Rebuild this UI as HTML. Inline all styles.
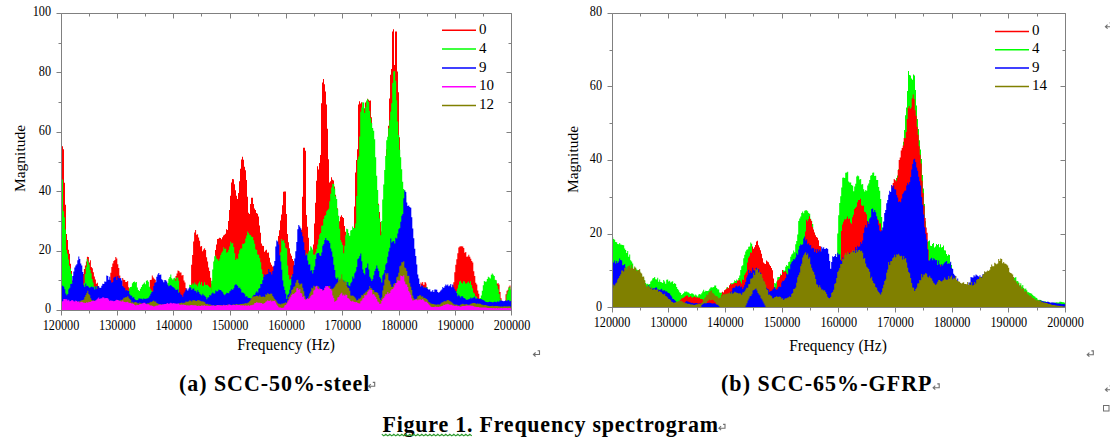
<!DOCTYPE html>
<html><head><meta charset="utf-8"><style>
html,body{margin:0;padding:0;background:#fff;width:1110px;height:447px;overflow:hidden}
svg{position:absolute;left:0;top:0}
.tk{font-family:"Liberation Serif",serif;font-size:13px;fill:#000}
.tk2{font-family:"Liberation Serif",serif;font-size:12.3px;fill:#000}
.lg{font-family:"Liberation Serif",serif;font-size:15px;fill:#000}
.ax{font-family:"Liberation Serif",serif;font-size:15.5px;fill:#000}
.cap{font-family:"Liberation Serif",serif;font-weight:bold;font-size:22px;fill:#000}
.pm{font-family:"Liberation Sans",sans-serif;font-size:9px;fill:#888}
</style></head><body>
<svg width="1110" height="447" viewBox="0 0 1110 447">
<path d="M61.0,310.5 L61.0,146.6 L62.0,146.6 L62.0,146.3 L63.0,146.3 L63.0,149.3 L64.0,149.3 L64.0,182.7 L65.0,182.7 L65.0,204.7 L66.0,204.7 L66.0,234.1 L67.0,234.1 L67.0,240.0 L68.0,240.0 L68.0,249.8 L69.0,249.8 L69.0,253.7 L70.0,253.7 L70.0,263.7 L71.0,263.7 L71.0,271.1 L72.0,271.1 L72.0,280.4 L73.0,280.4 L73.0,291.3 L74.0,291.3 L74.0,310.5 Z M81.9,310.5 L81.9,283.0 L82.9,283.0 L82.9,274.1 L83.9,274.1 L83.9,269.0 L84.9,269.0 L84.9,265.4 L85.9,265.4 L85.9,261.4 L86.9,261.4 L86.9,256.7 L87.9,256.7 L87.9,257.1 L88.9,257.1 L88.9,262.5 L89.9,262.5 L89.9,260.3 L90.9,260.3 L90.9,266.9 L91.9,266.9 L91.9,268.3 L92.9,268.3 L92.9,272.3 L93.9,272.3 L93.9,276.6 L94.9,276.6 L94.9,279.5 L95.9,279.5 L95.9,283.7 L96.9,283.7 L96.9,282.7 L97.9,282.7 L97.9,285.9 L98.9,285.9 L98.9,287.7 L99.9,287.7 L99.9,291.6 L100.6,291.6 L100.6,310.5 Z M110.3,310.5 L110.3,272.8 L111.3,272.8 L111.3,267.0 L112.3,267.0 L112.3,263.6 L113.3,263.6 L113.3,260.9 L114.3,260.9 L114.3,259.9 L115.3,259.9 L115.3,256.9 L116.3,256.9 L116.3,258.5 L117.3,258.5 L117.3,264.2 L118.3,264.2 L118.3,267.9 L119.3,267.9 L119.3,275.6 L120.3,275.6 L120.3,283.6 L121.3,283.6 L121.3,287.7 L121.3,287.7 L121.3,310.5 Z M122.2,310.5 L122.2,278.0 L123.2,278.0 L123.2,279.7 L124.2,279.7 L124.2,279.9 L125.2,279.9 L125.2,282.1 L126.2,282.1 L126.2,282.0 L127.2,282.0 L127.2,281.1 L128.2,281.1 L128.2,287.2 L129.2,287.2 L129.2,289.1 L130.2,289.1 L130.2,298.0 L130.5,298.0 L130.5,310.5 Z M148.8,310.5 L148.8,287.5 L149.8,287.5 L149.8,279.9 L150.8,279.9 L150.8,279.7 L151.8,279.7 L151.8,275.4 L152.8,275.4 L152.8,277.4 L153.8,277.4 L153.8,278.7 L154.8,278.7 L154.8,279.7 L155.8,279.7 L155.8,287.0 L156.8,287.0 L156.8,294.3 L157.1,294.3 L157.1,310.5 Z M174.5,310.5 L174.5,279.1 L175.5,279.1 L175.5,276.1 L176.5,276.1 L176.5,273.6 L177.5,273.6 L177.5,270.4 L178.5,270.4 L178.5,270.9 L179.5,270.9 L179.5,272.4 L180.5,272.4 L180.5,272.4 L181.5,272.4 L181.5,275.6 L182.5,275.6 L182.5,275.0 L183.5,275.0 L183.5,280.5 L184.5,280.5 L184.5,282.4 L185.5,282.4 L185.5,288.0 L186.5,288.0 L186.5,291.5 L187.5,291.5 L187.5,291.7 L188.5,291.7 L188.5,293.9 L189.2,293.9 L189.2,310.5 Z M190.1,310.5 L190.1,286.1 L191.1,286.1 L191.1,264.8 L192.1,264.8 L192.1,255.0 L193.1,255.0 L193.1,241.6 L194.1,241.6 L194.1,232.4 L195.1,232.4 L195.1,229.9 L196.1,229.9 L196.1,234.8 L197.1,234.8 L197.1,234.2 L198.1,234.2 L198.1,237.4 L199.1,237.4 L199.1,240.7 L200.1,240.7 L200.1,246.4 L201.1,246.4 L201.1,246.0 L202.1,246.0 L202.1,251.3 L203.1,251.3 L203.1,249.6 L204.1,249.6 L204.1,248.2 L205.1,248.2 L205.1,250.1 L206.1,250.1 L206.1,257.3 L207.1,257.3 L207.1,261.4 L208.1,261.4 L208.1,267.4 L209.1,267.4 L209.1,271.1 L210.1,271.1 L210.1,277.7 L211.1,277.7 L211.1,283.5 L212.1,283.5 L212.1,285.5 L213.1,285.5 L213.1,288.6 L214.0,288.6 L214.0,310.5 Z M212.0,310.5 L212.0,285.9 L213.0,285.9 L213.0,271.2 L214.0,271.2 L214.0,260.2 L215.0,260.2 L215.0,250.1 L216.0,250.1 L216.0,244.4 L217.0,244.4 L217.0,239.1 L218.0,239.1 L218.0,238.7 L219.0,238.7 L219.0,237.8 L220.0,237.8 L220.0,238.0 L221.0,238.0 L221.0,239.2 L222.0,239.2 L222.0,237.2 L223.0,237.2 L223.0,235.6 L224.0,235.6 L224.0,234.7 L225.0,234.7 L225.0,233.7 L226.0,233.7 L226.0,229.2 L227.0,229.2 L227.0,230.0 L228.0,230.0 L228.0,221.0 L229.0,221.0 L229.0,209.9 L230.0,209.9 L230.0,195.8 L231.0,195.8 L231.0,182.4 L232.0,182.4 L232.0,179.0 L233.0,179.0 L233.0,179.2 L234.0,179.2 L234.0,184.2 L235.0,184.2 L235.0,190.3 L236.0,190.3 L236.0,195.8 L237.0,195.8 L237.0,199.1 L238.0,199.1 L238.0,193.0 L239.0,193.0 L239.0,181.3 L240.0,181.3 L240.0,168.7 L241.0,168.7 L241.0,159.6 L242.0,159.6 L242.0,156.8 L243.0,156.8 L243.0,159.8 L244.0,159.8 L244.0,166.7 L245.0,166.7 L245.0,170.3 L246.0,170.3 L246.0,179.9 L247.0,179.9 L247.0,196.8 L248.0,196.8 L248.0,212.7 L249.0,212.7 L249.0,214.1 L250.0,214.1 L250.0,204.1 L251.0,204.1 L251.0,197.8 L252.0,197.8 L252.0,197.7 L253.0,197.7 L253.0,204.1 L254.0,204.1 L254.0,208.5 L255.0,208.5 L255.0,210.1 L256.0,210.1 L256.0,213.1 L257.0,213.1 L257.0,213.8 L258.0,213.8 L258.0,216.5 L259.0,216.5 L259.0,225.5 L260.0,225.5 L260.0,232.8 L261.0,232.8 L261.0,243.4 L262.0,243.4 L262.0,245.8 L263.0,245.8 L263.0,246.1 L264.0,246.1 L264.0,251.8 L265.0,251.8 L265.0,250.6 L266.0,250.6 L266.0,249.7 L267.0,249.7 L267.0,252.7 L268.0,252.7 L268.0,252.5 L269.0,252.5 L269.0,257.7 L270.0,257.7 L270.0,262.6 L271.0,262.6 L271.0,264.7 L272.0,264.7 L272.0,266.5 L273.0,266.5 L273.0,266.8 L274.0,266.8 L274.0,269.4 L275.0,269.4 L275.0,267.3 L276.0,267.3 L276.0,263.9 L277.0,263.9 L277.0,248.7 L278.0,248.7 L278.0,235.9 L279.0,235.9 L279.0,230.3 L280.0,230.3 L280.0,220.6 L281.0,220.6 L281.0,214.4 L282.0,214.4 L282.0,205.3 L283.0,205.3 L283.0,191.7 L284.0,191.7 L284.0,191.4 L285.0,191.4 L285.0,191.5 L286.0,191.5 L286.0,214.0 L287.0,214.0 L287.0,233.9 L288.0,233.9 L288.0,242.2 L289.0,242.2 L289.0,248.2 L290.0,248.2 L290.0,253.4 L291.0,253.4 L291.0,255.8 L292.0,255.8 L292.0,259.1 L293.0,259.1 L293.0,260.9 L294.0,260.9 L294.0,265.1 L295.0,265.1 L295.0,268.0 L296.0,268.0 L296.0,266.2 L297.0,266.2 L297.0,264.9 L298.0,264.9 L298.0,257.2 L299.0,257.2 L299.0,249.2 L300.0,249.2 L300.0,238.4 L301.0,238.4 L301.0,229.8 L302.0,229.8 L302.0,196.8 L303.0,196.8 L303.0,147.7 L304.0,147.7 L304.0,147.8 L305.0,147.8 L305.0,150.8 L306.0,150.8 L306.0,214.9 L307.0,214.9 L307.0,226.8 L308.0,226.8 L308.0,237.7 L309.0,237.7 L309.0,251.9 L310.0,251.9 L310.0,260.3 L311.0,260.3 L311.0,255.6 L312.0,255.6 L312.0,250.9 L313.0,250.9 L313.0,244.5 L314.0,244.5 L314.0,223.4 L315.0,223.4 L315.0,202.8 L316.0,202.8 L316.0,180.7 L317.0,180.7 L317.0,166.3 L318.0,166.3 L318.0,169.5 L319.0,169.5 L319.0,162.9 L320.0,162.9 L320.0,155.1 L321.0,155.1 L321.0,103.3 L322.0,103.3 L322.0,82.4 L323.0,82.4 L323.0,79.0 L324.0,79.0 L324.0,84.3 L325.0,84.3 L325.0,91.6 L326.0,91.6 L326.0,104.4 L327.0,104.4 L327.0,128.7 L328.0,128.7 L328.0,159.2 L329.0,159.2 L329.0,182.6 L330.0,182.6 L330.0,181.3 L331.0,181.3 L331.0,177.2 L332.0,177.2 L332.0,179.8 L333.0,179.8 L333.0,180.4 L334.0,180.4 L334.0,186.5 L335.0,186.5 L335.0,194.7 L336.0,194.7 L336.0,203.0 L337.0,203.0 L337.0,208.2 L338.0,208.2 L338.0,215.8 L339.0,215.8 L339.0,221.2 L340.0,221.2 L340.0,216.8 L341.0,216.8 L341.0,215.2 L342.0,215.2 L342.0,216.9 L343.0,216.9 L343.0,217.9 L344.0,217.9 L344.0,226.0 L345.0,226.0 L345.0,231.7 L346.0,231.7 L346.0,310.5 Z M352.0,310.5 L352.0,270.1 L353.0,270.1 L353.0,239.3 L354.0,239.3 L354.0,206.5 L355.0,206.5 L355.0,172.5 L356.0,172.5 L356.0,160.1 L357.0,160.1 L357.0,149.3 L358.0,149.3 L358.0,104.6 L359.0,104.6 L359.0,101.2 L360.0,101.2 L360.0,103.6 L361.0,103.6 L361.0,102.2 L362.0,102.2 L362.0,109.9 L363.0,109.9 L363.0,110.1 L364.0,110.1 L364.0,108.3 L365.0,108.3 L365.0,102.5 L366.0,102.5 L366.0,101.6 L367.0,101.6 L367.0,98.8 L368.0,98.8 L368.0,99.8 L369.0,99.8 L369.0,100.7 L370.0,100.7 L370.0,100.5 L371.0,100.5 L371.0,117.2 L372.0,117.2 L372.0,129.9 L373.0,129.9 L373.0,140.9 L374.0,140.9 L374.0,157.3 L375.0,157.3 L375.0,167.5 L376.0,167.5 L376.0,182.4 L377.0,182.4 L377.0,194.1 L378.0,194.1 L378.0,203.8 L379.0,203.8 L379.0,211.9 L380.0,211.9 L380.0,222.1 L381.0,222.1 L381.0,231.5 L382.0,231.5 L382.0,258.3 L383.0,258.3 L383.0,310.5 Z M384.0,310.5 L384.0,238.7 L385.0,238.7 L385.0,179.2 L386.0,179.2 L386.0,149.2 L387.0,149.2 L387.0,143.2 L388.0,143.2 L388.0,125.8 L389.0,125.8 L389.0,98.6 L390.0,98.6 L390.0,74.8 L391.0,74.8 L391.0,68.9 L392.0,68.9 L392.0,31.6 L393.0,31.6 L393.0,29.2 L394.0,29.2 L394.0,65.1 L395.0,65.1 L395.0,31.5 L396.0,31.5 L396.0,31.6 L397.0,31.6 L397.0,71.4 L398.0,71.4 L398.0,92.3 L399.0,92.3 L399.0,137.3 L400.0,137.3 L400.0,173.4 L401.0,173.4 L401.0,190.2 L402.0,190.2 L402.0,203.5 L403.0,203.5 L403.0,229.4 L404.0,229.4 L404.0,310.5 Z M419.5,310.5 L419.5,289.1 L420.5,289.1 L420.5,282.5 L421.5,282.5 L421.5,283.8 L422.5,283.8 L422.5,285.5 L423.5,285.5 L423.5,285.0 L424.5,285.0 L424.5,282.0 L425.5,282.0 L425.5,283.9 L426.5,283.9 L426.5,288.9 L426.8,288.9 L426.8,310.5 Z M439.7,310.5 L439.7,291.6 L440.7,291.6 L440.7,291.3 L441.7,291.3 L441.7,290.9 L442.7,290.9 L442.7,293.6 L443.3,293.6 L443.3,310.5 Z M420.2,310.5 L420.2,286.3 L421.2,286.3 L421.2,285.3 L422.2,285.3 L422.2,282.1 L423.2,282.1 L423.2,284.8 L424.2,284.8 L424.2,284.7 L425.2,284.7 L425.2,282.8 L426.2,282.8 L426.2,287.1 L427.2,287.1 L427.2,289.6 L427.5,289.6 L427.5,310.5 Z M452.3,310.5 L452.3,285.3 L453.3,285.3 L453.3,282.2 L454.3,282.2 L454.3,272.2 L455.3,272.2 L455.3,264.7 L456.3,264.7 L456.3,259.2 L457.3,259.2 L457.3,253.2 L458.3,253.2 L458.3,247.5 L459.3,247.5 L459.3,246.5 L460.3,246.5 L460.3,246.3 L461.3,246.3 L461.3,246.2 L462.3,246.2 L462.3,246.5 L463.3,246.5 L463.3,248.1 L464.3,248.1 L464.3,252.8 L465.3,252.8 L465.3,251.9 L466.3,251.9 L466.3,256.7 L467.3,256.7 L467.3,256.6 L468.3,256.6 L468.3,254.8 L469.3,254.8 L469.3,256.8 L470.3,256.8 L470.3,258.7 L471.3,258.7 L471.3,260.9 L472.3,260.9 L472.3,262.6 L473.3,262.6 L473.3,271.2 L474.3,271.2 L474.3,276.0 L475.3,276.0 L475.3,282.8 L476.3,282.8 L476.3,284.5 L477.3,284.5 L477.3,290.5 L478.3,290.5 L478.3,293.7 L479.3,293.7 L479.3,298.4 L480.3,298.4 L480.3,299.3 L480.7,299.3 L480.7,310.5 Z M493.6,310.5 L493.6,284.1 L494.6,284.1 L494.6,279.8 L495.6,279.8 L495.6,282.5 L496.6,282.5 L496.6,283.8 L497.6,283.8 L497.6,283.1 L498.6,283.1 L498.6,284.6 L499.6,284.6 L499.6,292.0 L500.6,292.0 L500.6,298.2 L501.6,298.2 L501.6,303.2 L501.8,303.2 L501.8,310.5 Z M505.5,310.5 L505.5,294.2 L506.5,294.2 L506.5,290.8 L507.5,290.8 L507.5,289.7 L508.5,289.7 L508.5,286.7 L509.5,286.7 L509.5,285.6 L510.5,285.6 L510.5,289.8 L511.5,289.8 L511.5,290.8 L512.0,290.8 L512.0,310.5 Z " fill="#ff0000"/>
<path d="M61.0,310.5 L61.0,183.0 L62.0,183.0 L62.0,179.4 L63.0,179.4 L63.0,211.3 L64.0,211.3 L64.0,217.3 L65.0,217.3 L65.0,229.5 L66.0,229.5 L66.0,249.9 L67.0,249.9 L67.0,253.8 L68.0,253.8 L68.0,259.4 L69.0,259.4 L69.0,265.8 L70.0,265.8 L70.0,268.5 L71.0,268.5 L71.0,273.8 L72.0,273.8 L72.0,282.1 L73.0,282.1 L73.0,288.4 L73.6,288.4 L73.6,310.5 Z M74.1,310.5 L74.1,295.7 L75.1,295.7 L75.1,294.6 L76.1,294.6 L76.1,295.8 L77.1,295.8 L77.1,298.0 L77.3,298.0 L77.3,310.5 Z M83.7,310.5 L83.7,282.9 L84.7,282.9 L84.7,274.1 L85.7,274.1 L85.7,267.3 L86.7,267.3 L86.7,259.0 L87.7,259.0 L87.7,261.6 L88.7,261.6 L88.7,264.6 L89.7,264.6 L89.7,270.1 L90.7,270.1 L90.7,273.2 L91.7,273.2 L91.7,279.0 L92.7,279.0 L92.7,282.5 L93.7,282.5 L93.7,286.7 L94.7,286.7 L94.7,286.6 L95.7,286.6 L95.7,286.0 L96.7,286.0 L96.7,289.8 L97.4,289.8 L97.4,310.5 Z M125.9,310.5 L125.9,295.5 L126.9,295.5 L126.9,290.6 L127.9,290.6 L127.9,291.2 L128.9,291.2 L128.9,288.3 L129.9,288.3 L129.9,286.9 L130.9,286.9 L130.9,286.7 L131.9,286.7 L131.9,283.2 L132.9,283.2 L132.9,282.1 L133.9,282.1 L133.9,281.4 L134.9,281.4 L134.9,282.5 L135.9,282.5 L135.9,282.1 L136.9,282.1 L136.9,287.4 L137.9,287.4 L137.9,290.0 L138.9,290.0 L138.9,290.9 L139.9,290.9 L139.9,288.7 L140.9,288.7 L140.9,287.1 L141.9,287.1 L141.9,284.7 L142.9,284.7 L142.9,283.8 L143.9,283.8 L143.9,282.4 L144.9,282.4 L144.9,284.2 L145.9,284.2 L145.9,280.8 L146.9,280.8 L146.9,280.3 L147.9,280.3 L147.9,281.7 L148.9,281.7 L148.9,286.8 L149.9,286.8 L149.9,288.7 L150.9,288.7 L150.9,290.4 L151.9,290.4 L151.9,291.6 L152.9,291.6 L152.9,296.1 L153.4,296.1 L153.4,310.5 Z M166.3,310.5 L166.3,285.8 L167.3,285.8 L167.3,282.9 L168.3,282.9 L168.3,278.7 L169.3,278.7 L169.3,277.1 L170.3,277.1 L170.3,274.4 L171.3,274.4 L171.3,278.3 L172.3,278.3 L172.3,279.4 L173.3,279.4 L173.3,278.3 L174.3,278.3 L174.3,277.8 L175.3,277.8 L175.3,281.0 L176.3,281.0 L176.3,277.4 L177.3,277.4 L177.3,277.7 L178.3,277.7 L178.3,280.8 L179.1,280.8 L179.1,310.5 Z M189.2,310.5 L189.2,284.8 L190.2,284.8 L190.2,284.9 L191.2,284.9 L191.2,284.8 L192.2,284.8 L192.2,283.3 L193.2,283.3 L193.2,284.4 L194.2,284.4 L194.2,282.6 L195.2,282.6 L195.2,284.4 L196.2,284.4 L196.2,284.5 L197.2,284.5 L197.2,286.4 L198.2,286.4 L198.2,286.3 L199.2,286.3 L199.2,287.7 L200.2,287.7 L200.2,290.1 L201.1,290.1 L201.1,310.5 Z M191.0,310.5 L191.0,287.8 L192.0,287.8 L192.0,287.5 L193.0,287.5 L193.0,285.8 L194.0,285.8 L194.0,285.2 L195.0,285.2 L195.0,284.8 L196.0,284.8 L196.0,285.4 L197.0,285.4 L197.0,286.3 L198.0,286.3 L198.0,283.2 L199.0,283.2 L199.0,281.5 L200.0,281.5 L200.0,284.5 L201.0,284.5 L201.0,282.0 L202.0,282.0 L202.0,285.7 L203.0,285.7 L203.0,285.7 L204.0,285.7 L204.0,282.2 L205.0,282.2 L205.0,284.7 L206.0,284.7 L206.0,284.9 L207.0,284.9 L207.0,284.7 L208.0,284.7 L208.0,286.0 L209.0,286.0 L209.0,287.2 L210.0,287.2 L210.0,287.5 L211.0,287.5 L211.0,291.6 L212.0,291.6 L212.0,310.5 Z M211.2,310.5 L211.2,280.8 L212.2,280.8 L212.2,269.6 L213.2,269.6 L213.2,261.4 L214.2,261.4 L214.2,256.2 L215.2,256.2 L215.2,255.5 L216.2,255.5 L216.2,258.6 L217.2,258.6 L217.2,259.2 L218.2,259.2 L218.2,260.8 L219.2,260.8 L219.2,258.5 L220.2,258.5 L220.2,254.9 L221.2,254.9 L221.2,252.7 L222.2,252.7 L222.2,251.2 L223.2,251.2 L223.2,247.2 L224.2,247.2 L224.2,248.9 L225.2,248.9 L225.2,248.4 L226.2,248.4 L226.2,252.8 L227.2,252.8 L227.2,251.9 L228.2,251.9 L228.2,249.8 L229.2,249.8 L229.2,246.5 L230.2,246.5 L230.2,241.8 L231.2,241.8 L231.2,243.4 L232.2,243.4 L232.2,242.9 L233.2,242.9 L233.2,247.1 L234.2,247.1 L234.2,253.2 L235.2,253.2 L235.2,259.9 L236.2,259.9 L236.2,258.2 L237.2,258.2 L237.2,258.9 L238.2,258.9 L238.2,253.8 L239.2,253.8 L239.2,250.3 L240.2,250.3 L240.2,248.6 L241.2,248.6 L241.2,248.5 L242.2,248.5 L242.2,243.7 L243.2,243.7 L243.2,244.1 L244.2,244.1 L244.2,243.0 L245.2,243.0 L245.2,238.4 L246.2,238.4 L246.2,235.5 L247.2,235.5 L247.2,231.4 L248.2,231.4 L248.2,233.0 L249.2,233.0 L249.2,234.7 L250.2,234.7 L250.2,235.3 L251.2,235.3 L251.2,236.8 L252.2,236.8 L252.2,237.0 L253.2,237.0 L253.2,240.3 L254.2,240.3 L254.2,243.8 L255.2,243.8 L255.2,249.3 L256.2,249.3 L256.2,250.1 L257.2,250.1 L257.2,254.4 L258.2,254.4 L258.2,254.7 L259.2,254.7 L259.2,258.0 L260.2,258.0 L260.2,262.3 L261.2,262.3 L261.2,269.2 L262.2,269.2 L262.2,274.1 L263.2,274.1 L263.2,277.4 L264.2,277.4 L264.2,278.6 L265.2,278.6 L265.2,281.1 L266.2,281.1 L266.2,281.3 L267.2,281.3 L267.2,281.8 L268.2,281.8 L268.2,280.8 L269.2,280.8 L269.2,285.4 L270.2,285.4 L270.2,283.6 L271.2,283.6 L271.2,287.9 L272.2,287.9 L272.2,288.9 L273.2,288.9 L273.2,287.2 L274.2,287.2 L274.2,290.4 L275.2,290.4 L275.2,293.1 L276.2,293.1 L276.2,292.3 L277.2,292.3 L277.2,288.4 L278.2,288.4 L278.2,282.5 L279.2,282.5 L279.2,264.9 L280.2,264.9 L280.2,252.2 L281.2,252.2 L281.2,239.1 L282.2,239.1 L282.2,241.1 L283.2,241.1 L283.2,239.9 L284.2,239.9 L284.2,243.1 L285.2,243.1 L285.2,247.8 L286.2,247.8 L286.2,248.5 L287.2,248.5 L287.2,265.4 L288.2,265.4 L288.2,275.1 L289.2,275.1 L289.2,279.5 L290.2,279.5 L290.2,279.1 L291.2,279.1 L291.2,275.6 L292.2,275.6 L292.2,277.7 L293.2,277.7 L293.2,274.5 L294.2,274.5 L294.2,271.0 L295.2,271.0 L295.2,269.8 L296.2,269.8 L296.2,270.9 L297.2,270.9 L297.2,269.5 L298.2,269.5 L298.2,267.5 L299.2,267.5 L299.2,265.5 L300.2,265.5 L300.2,265.5 L301.2,265.5 L301.2,264.4 L302.2,264.4 L302.2,266.0 L303.2,266.0 L303.2,260.8 L304.2,260.8 L304.2,263.1 L305.2,263.1 L305.2,260.2 L306.2,260.2 L306.2,253.2 L307.2,253.2 L307.2,254.3 L308.2,254.3 L308.2,251.4 L309.2,251.4 L309.2,250.6 L310.2,250.6 L310.2,246.3 L311.2,246.3 L311.2,247.4 L312.2,247.4 L312.2,249.5 L313.2,249.5 L313.2,254.5 L314.2,254.5 L314.2,254.4 L315.2,254.4 L315.2,252.5 L316.2,252.5 L316.2,249.0 L317.2,249.0 L317.2,244.4 L318.2,244.4 L318.2,239.2 L319.2,239.2 L319.2,234.5 L320.2,234.5 L320.2,233.1 L321.2,233.1 L321.2,225.7 L322.2,225.7 L322.2,225.6 L323.2,225.6 L323.2,218.9 L324.2,218.9 L324.2,215.9 L325.2,215.9 L325.2,214.9 L326.2,214.9 L326.2,211.2 L327.2,211.2 L327.2,209.9 L328.2,209.9 L328.2,208.7 L329.2,208.7 L329.2,201.2 L330.2,201.2 L330.2,193.8 L331.2,193.8 L331.2,187.4 L332.2,187.4 L332.2,183.8 L333.2,183.8 L333.2,184.0 L334.2,184.0 L334.2,188.8 L335.2,188.8 L335.2,196.3 L336.2,196.3 L336.2,199.0 L337.2,199.0 L337.2,209.2 L338.2,209.2 L338.2,216.0 L339.2,216.0 L339.2,228.7 L340.2,228.7 L340.2,240.1 L341.2,240.1 L341.2,242.2 L342.2,242.2 L342.2,245.0 L343.2,245.0 L343.2,253.3 L344.2,253.3 L344.2,245.8 L345.2,245.8 L345.2,235.3 L346.2,235.3 L346.2,228.7 L347.2,228.7 L347.2,229.3 L348.2,229.3 L348.2,233.0 L349.2,233.0 L349.2,235.7 L350.2,235.7 L350.2,230.5 L351.2,230.5 L351.2,230.1 L352.2,230.1 L352.2,226.5 L353.2,226.5 L353.2,228.0 L354.2,228.0 L354.2,228.2 L355.2,228.2 L355.2,223.5 L356.2,223.5 L356.2,195.9 L357.2,195.9 L357.2,159.6 L358.2,159.6 L358.2,156.5 L359.2,156.5 L359.2,136.4 L360.2,136.4 L360.2,111.7 L361.2,111.7 L361.2,107.6 L362.2,107.6 L362.2,102.2 L363.2,102.2 L363.2,102.5 L364.2,102.5 L364.2,113.1 L365.2,113.1 L365.2,107.3 L366.2,107.3 L366.2,100.6 L367.2,100.6 L367.2,98.9 L368.2,98.9 L368.2,101.9 L369.2,101.9 L369.2,111.0 L370.2,111.0 L370.2,117.9 L371.2,117.9 L371.2,122.9 L372.2,122.9 L372.2,128.0 L373.2,128.0 L373.2,130.8 L374.2,130.8 L374.2,139.3 L375.2,139.3 L375.2,157.3 L376.2,157.3 L376.2,175.8 L377.2,175.8 L377.2,190.0 L378.2,190.0 L378.2,204.9 L379.2,204.9 L379.2,218.5 L380.2,218.5 L380.2,235.3 L381.2,235.3 L381.2,221.1 L382.2,221.1 L382.2,199.4 L383.2,199.4 L383.2,184.4 L384.2,184.4 L384.2,170.0 L385.2,170.0 L385.2,156.1 L386.2,156.1 L386.2,140.3 L387.2,140.3 L387.2,136.7 L388.2,136.7 L388.2,128.3 L389.2,128.3 L389.2,120.3 L390.2,120.3 L390.2,111.8 L391.2,111.8 L391.2,103.3 L392.2,103.3 L392.2,82.9 L393.2,82.9 L393.2,71.4 L394.2,71.4 L394.2,71.1 L395.2,71.1 L395.2,80.7 L396.2,80.7 L396.2,100.3 L397.2,100.3 L397.2,121.6 L398.2,121.6 L398.2,134.9 L399.2,134.9 L399.2,149.7 L400.2,149.7 L400.2,157.3 L401.2,157.3 L401.2,169.3 L402.2,169.3 L402.2,181.7 L403.2,181.7 L403.2,189.0 L404.2,189.0 L404.2,190.2 L405.2,190.2 L405.2,195.6 L406.2,195.6 L406.2,210.4 L407.2,210.4 L407.2,234.8 L408.2,234.8 L408.2,255.0 L409.2,255.0 L409.2,278.9 L410.0,278.9 L410.0,310.5 Z M419.5,310.5 L419.5,291.2 L420.5,291.2 L420.5,290.8 L421.5,290.8 L421.5,288.7 L422.5,288.7 L422.5,287.5 L423.5,287.5 L423.5,288.1 L424.5,288.1 L424.5,287.4 L425.5,287.4 L425.5,288.2 L426.5,288.2 L426.5,286.9 L427.5,286.9 L427.5,291.4 L428.5,291.4 L428.5,292.5 L428.6,292.5 L428.6,310.5 Z M456.0,310.5 L456.0,291.5 L457.0,291.5 L457.0,288.4 L458.0,288.4 L458.0,284.7 L459.0,284.7 L459.0,281.6 L460.0,281.6 L460.0,280.7 L461.0,280.7 L461.0,282.7 L462.0,282.7 L462.0,283.4 L463.0,283.4 L463.0,281.2 L464.0,281.2 L464.0,281.6 L465.0,281.6 L465.0,283.4 L466.0,283.4 L466.0,283.5 L467.0,283.5 L467.0,282.5 L468.0,282.5 L468.0,281.6 L469.0,281.6 L469.0,283.2 L470.0,283.2 L470.0,281.2 L471.0,281.2 L471.0,285.1 L472.0,285.1 L472.0,288.3 L473.0,288.3 L473.0,292.4 L474.0,292.4 L474.0,293.5 L475.0,293.5 L475.0,295.9 L476.0,295.9 L476.0,296.7 L477.0,296.7 L477.0,302.9 L477.1,302.9 L477.1,310.5 Z M479.8,310.5 L479.8,298.0 L480.8,298.0 L480.8,295.5 L481.8,295.5 L481.8,290.8 L482.8,290.8 L482.8,285.2 L483.8,285.2 L483.8,280.9 L484.8,280.9 L484.8,281.8 L485.8,281.8 L485.8,281.4 L486.8,281.4 L486.8,278.9 L487.8,278.9 L487.8,276.8 L488.8,276.8 L488.8,277.5 L489.8,277.5 L489.8,278.4 L490.8,278.4 L490.8,274.7 L491.8,274.7 L491.8,273.5 L492.8,273.5 L492.8,274.8 L493.8,274.8 L493.8,275.9 L494.8,275.9 L494.8,279.9 L495.8,279.9 L495.8,280.2 L496.8,280.2 L496.8,285.4 L497.8,285.4 L497.8,289.3 L498.8,289.3 L498.8,294.0 L499.8,294.0 L499.8,299.0 L500.8,299.0 L500.8,305.5 L500.9,305.5 L500.9,310.5 Z M506.4,310.5 L506.4,294.5 L507.4,294.5 L507.4,291.2 L508.4,291.2 L508.4,287.8 L509.4,287.8 L509.4,286.8 L510.4,286.8 L510.4,289.7 L511.4,289.7 L511.4,291.3 L512.0,291.3 L512.0,310.5 Z " fill="#00ff00"/>
<path d="M61.3,310.5 L61.3,285.5 L62.3,285.5 L62.3,285.7 L63.3,285.7 L63.3,286.8 L64.3,286.8 L64.3,289.2 L65.3,289.2 L65.3,293.4 L66.3,293.4 L66.3,295.2 L67.3,295.2 L67.3,293.9 L68.3,293.9 L68.3,289.2 L69.3,289.2 L69.3,287.8 L70.3,287.8 L70.3,284.1 L71.3,284.1 L71.3,283.8 L72.3,283.8 L72.3,275.9 L73.3,275.9 L73.3,271.5 L74.3,271.5 L74.3,267.5 L75.3,267.5 L75.3,265.4 L76.3,265.4 L76.3,264.2 L77.3,264.2 L77.3,260.3 L78.3,260.3 L78.3,256.6 L79.3,256.6 L79.3,258.9 L80.3,258.9 L80.3,263.6 L81.3,263.6 L81.3,265.6 L82.3,265.6 L82.3,272.1 L83.3,272.1 L83.3,285.3 L84.3,285.3 L84.3,286.9 L85.3,286.9 L85.3,283.4 L86.3,283.4 L86.3,285.9 L87.3,285.9 L87.3,285.8 L88.3,285.8 L88.3,287.1 L89.3,287.1 L89.3,287.9 L90.3,287.9 L90.3,287.1 L91.3,287.1 L91.3,286.4 L92.3,286.4 L92.3,287.2 L93.3,287.2 L93.3,287.3 L94.3,287.3 L94.3,289.4 L95.3,289.4 L95.3,286.2 L96.3,286.2 L96.3,289.1 L97.3,289.1 L97.3,286.1 L98.3,286.1 L98.3,286.5 L99.3,286.5 L99.3,288.1 L100.3,288.1 L100.3,287.7 L101.3,287.7 L101.3,285.7 L102.3,285.7 L102.3,283.7 L103.3,283.7 L103.3,284.1 L104.3,284.1 L104.3,281.4 L105.3,281.4 L105.3,281.7 L106.3,281.7 L106.3,275.6 L107.3,275.6 L107.3,275.9 L108.3,275.9 L108.3,279.7 L109.3,279.7 L109.3,276.8 L110.3,276.8 L110.3,280.2 L111.3,280.2 L111.3,282.7 L112.3,282.7 L112.3,281.9 L113.3,281.9 L113.3,277.7 L114.3,277.7 L114.3,277.0 L115.3,277.0 L115.3,276.5 L116.3,276.5 L116.3,280.1 L117.3,280.1 L117.3,276.1 L118.3,276.1 L118.3,277.9 L119.3,277.9 L119.3,278.5 L120.3,278.5 L120.3,278.1 L121.3,278.1 L121.3,280.5 L122.3,280.5 L122.3,286.1 L123.3,286.1 L123.3,287.2 L124.3,287.2 L124.3,288.0 L125.3,288.0 L125.3,290.5 L126.3,290.5 L126.3,290.1 L127.3,290.1 L127.3,291.0 L128.3,291.0 L128.3,291.1 L129.3,291.1 L129.3,294.2 L130.3,294.2 L130.3,295.5 L131.3,295.5 L131.3,295.7 L132.3,295.7 L132.3,297.7 L133.3,297.7 L133.3,297.1 L134.3,297.1 L134.3,299.0 L135.3,299.0 L135.3,299.9 L136.3,299.9 L136.3,300.3 L137.3,300.3 L137.3,299.9 L138.3,299.9 L138.3,298.6 L139.3,298.6 L139.3,298.4 L140.3,298.4 L140.3,298.7 L141.3,298.7 L141.3,298.8 L142.3,298.8 L142.3,299.6 L143.3,299.6 L143.3,298.2 L144.3,298.2 L144.3,299.1 L145.3,299.1 L145.3,298.7 L146.3,298.7 L146.3,298.6 L147.3,298.6 L147.3,298.2 L148.3,298.2 L148.3,297.5 L149.3,297.5 L149.3,295.7 L150.3,295.7 L150.3,293.8 L151.3,293.8 L151.3,292.0 L152.3,292.0 L152.3,291.5 L153.3,291.5 L153.3,285.9 L154.3,285.9 L154.3,282.9 L155.3,282.9 L155.3,282.2 L156.3,282.2 L156.3,276.8 L157.3,276.8 L157.3,274.6 L158.3,274.6 L158.3,273.1 L159.3,273.1 L159.3,275.0 L160.3,275.0 L160.3,274.5 L161.3,274.5 L161.3,279.3 L162.3,279.3 L162.3,280.3 L163.3,280.3 L163.3,282.3 L164.3,282.3 L164.3,279.9 L165.3,279.9 L165.3,280.3 L166.3,280.3 L166.3,281.5 L167.3,281.5 L167.3,284.4 L168.3,284.4 L168.3,286.2 L169.3,286.2 L169.3,285.4 L170.3,285.4 L170.3,284.9 L171.3,284.9 L171.3,285.9 L172.3,285.9 L172.3,287.0 L173.3,287.0 L173.3,287.5 L174.3,287.5 L174.3,288.5 L175.3,288.5 L175.3,289.8 L176.3,289.8 L176.3,290.0 L177.3,290.0 L177.3,289.2 L178.3,289.2 L178.3,292.7 L179.3,292.7 L179.3,292.3 L180.3,292.3 L180.3,294.3 L181.3,294.3 L181.3,295.0 L182.3,295.0 L182.3,296.7 L183.3,296.7 L183.3,293.5 L184.3,293.5 L184.3,291.7 L185.3,291.7 L185.3,289.8 L186.3,289.8 L186.3,288.6 L187.3,288.6 L187.3,290.4 L188.3,290.4 L188.3,288.6 L189.3,288.6 L189.3,287.2 L190.3,287.2 L190.3,287.5 L191.3,287.5 L191.3,290.1 L192.3,290.1 L192.3,288.8 L193.3,288.8 L193.3,288.4 L194.3,288.4 L194.3,290.8 L195.3,290.8 L195.3,290.7 L196.3,290.7 L196.3,292.4 L197.3,292.4 L197.3,290.3 L198.3,290.3 L198.3,292.1 L199.3,292.1 L199.3,293.8 L200.3,293.8 L200.3,294.5 L201.3,294.5 L201.3,295.4 L202.3,295.4 L202.3,293.8 L203.3,293.8 L203.3,295.3 L204.3,295.3 L204.3,295.8 L205.3,295.8 L205.3,297.0 L206.3,297.0 L206.3,299.2 L207.3,299.2 L207.3,297.5 L208.3,297.5 L208.3,297.3 L209.3,297.3 L209.3,295.1 L210.3,295.1 L210.3,295.5 L211.3,295.5 L211.3,293.5 L212.3,293.5 L212.3,292.5 L213.3,292.5 L213.3,293.5 L214.3,293.5 L214.3,293.6 L215.3,293.6 L215.3,290.6 L216.3,290.6 L216.3,291.6 L217.3,291.6 L217.3,291.3 L218.3,291.3 L218.3,289.5 L219.3,289.5 L219.3,289.9 L220.3,289.9 L220.3,290.0 L221.3,290.0 L221.3,291.2 L222.3,291.2 L222.3,292.3 L223.3,292.3 L223.3,294.2 L224.3,294.2 L224.3,295.2 L225.3,295.2 L225.3,293.9 L226.3,293.9 L226.3,292.7 L227.3,292.7 L227.3,292.9 L228.3,292.9 L228.3,293.3 L229.3,293.3 L229.3,291.2 L230.3,291.2 L230.3,290.6 L231.3,290.6 L231.3,289.1 L232.3,289.1 L232.3,290.1 L233.3,290.1 L233.3,288.2 L234.3,288.2 L234.3,285.3 L235.3,285.3 L235.3,284.3 L236.3,284.3 L236.3,284.8 L237.3,284.8 L237.3,286.1 L238.3,286.1 L238.3,287.9 L239.3,287.9 L239.3,287.4 L240.3,287.4 L240.3,289.2 L241.3,289.2 L241.3,292.4 L242.3,292.4 L242.3,292.5 L243.3,292.5 L243.3,293.1 L244.3,293.1 L244.3,294.2 L245.3,294.2 L245.3,296.7 L246.3,296.7 L246.3,296.1 L247.3,296.1 L247.3,297.6 L248.3,297.6 L248.3,298.1 L249.3,298.1 L249.3,298.0 L250.3,298.0 L250.3,298.4 L251.3,298.4 L251.3,298.3 L252.3,298.3 L252.3,296.1 L253.3,296.1 L253.3,294.7 L254.3,294.7 L254.3,295.1 L255.3,295.1 L255.3,292.8 L256.3,292.8 L256.3,291.3 L257.3,291.3 L257.3,292.6 L258.3,292.6 L258.3,288.8 L259.3,288.8 L259.3,288.0 L260.3,288.0 L260.3,284.0 L261.3,284.0 L261.3,284.1 L262.3,284.1 L262.3,280.3 L263.3,280.3 L263.3,276.9 L264.3,276.9 L264.3,274.2 L265.3,274.2 L265.3,274.9 L266.3,274.9 L266.3,274.0 L267.3,274.0 L267.3,274.0 L268.3,274.0 L268.3,269.0 L269.3,269.0 L269.3,272.1 L270.3,272.1 L270.3,272.3 L271.3,272.3 L271.3,274.5 L272.3,274.5 L272.3,271.0 L273.3,271.0 L273.3,265.7 L274.3,265.7 L274.3,260.9 L275.3,260.9 L275.3,246.5 L276.3,246.5 L276.3,240.6 L277.3,240.6 L277.3,241.6 L278.3,241.6 L278.3,244.4 L279.3,244.4 L279.3,255.2 L280.3,255.2 L280.3,261.4 L281.3,261.4 L281.3,269.8 L282.3,269.8 L282.3,280.5 L283.3,280.5 L283.3,286.6 L284.3,286.6 L284.3,289.9 L285.3,289.9 L285.3,293.8 L286.3,293.8 L286.3,299.0 L287.3,299.0 L287.3,295.1 L288.3,295.1 L288.3,293.8 L289.3,293.8 L289.3,289.7 L290.3,289.7 L290.3,285.3 L291.3,285.3 L291.3,276.8 L292.3,276.8 L292.3,274.1 L293.3,274.1 L293.3,265.4 L294.3,265.4 L294.3,258.4 L295.3,258.4 L295.3,251.3 L296.3,251.3 L296.3,241.9 L297.3,241.9 L297.3,229.3 L298.3,229.3 L298.3,224.9 L299.3,224.9 L299.3,226.4 L300.3,226.4 L300.3,228.3 L301.3,228.3 L301.3,232.2 L302.3,232.2 L302.3,236.2 L303.3,236.2 L303.3,242.2 L304.3,242.2 L304.3,249.9 L305.3,249.9 L305.3,255.5 L306.3,255.5 L306.3,254.6 L307.3,254.6 L307.3,260.5 L308.3,260.5 L308.3,264.8 L309.3,264.8 L309.3,264.2 L310.3,264.2 L310.3,270.8 L311.3,270.8 L311.3,269.9 L312.3,269.9 L312.3,273.4 L313.3,273.4 L313.3,270.0 L314.3,270.0 L314.3,266.4 L315.3,266.4 L315.3,259.0 L316.3,259.0 L316.3,253.8 L317.3,253.8 L317.3,252.9 L318.3,252.9 L318.3,253.1 L319.3,253.1 L319.3,255.6 L320.3,255.6 L320.3,255.9 L321.3,255.9 L321.3,252.5 L322.3,252.5 L322.3,245.7 L323.3,245.7 L323.3,244.0 L324.3,244.0 L324.3,239.9 L325.3,239.9 L325.3,238.1 L326.3,238.1 L326.3,240.3 L327.3,240.3 L327.3,240.2 L328.3,240.2 L328.3,241.0 L329.3,241.0 L329.3,243.1 L330.3,243.1 L330.3,248.4 L331.3,248.4 L331.3,251.6 L332.3,251.6 L332.3,256.7 L333.3,256.7 L333.3,264.7 L334.3,264.7 L334.3,270.0 L335.3,270.0 L335.3,277.6 L336.3,277.6 L336.3,279.0 L337.3,279.0 L337.3,277.6 L338.3,277.6 L338.3,281.5 L339.3,281.5 L339.3,279.8 L340.3,279.8 L340.3,283.5 L341.3,283.5 L341.3,283.7 L342.3,283.7 L342.3,282.5 L343.3,282.5 L343.3,280.4 L344.3,280.4 L344.3,282.5 L345.3,282.5 L345.3,282.0 L346.3,282.0 L346.3,285.0 L347.3,285.0 L347.3,281.9 L348.3,281.9 L348.3,285.5 L349.3,285.5 L349.3,286.3 L350.3,286.3 L350.3,283.3 L351.3,283.3 L351.3,281.8 L352.3,281.8 L352.3,276.6 L353.3,276.6 L353.3,278.4 L354.3,278.4 L354.3,273.2 L355.3,273.2 L355.3,271.4 L356.3,271.4 L356.3,267.1 L357.3,267.1 L357.3,259.2 L358.3,259.2 L358.3,258.2 L359.3,258.2 L359.3,256.1 L360.3,256.1 L360.3,253.6 L361.3,253.6 L361.3,261.3 L362.3,261.3 L362.3,269.6 L363.3,269.6 L363.3,272.9 L364.3,272.9 L364.3,274.6 L365.3,274.6 L365.3,268.1 L366.3,268.1 L366.3,267.4 L367.3,267.4 L367.3,263.4 L368.3,263.4 L368.3,269.4 L369.3,269.4 L369.3,276.8 L370.3,276.8 L370.3,278.5 L371.3,278.5 L371.3,280.9 L372.3,280.9 L372.3,279.3 L373.3,279.3 L373.3,275.3 L374.3,275.3 L374.3,270.9 L375.3,270.9 L375.3,268.7 L376.3,268.7 L376.3,265.6 L377.3,265.6 L377.3,268.6 L378.3,268.6 L378.3,270.9 L379.3,270.9 L379.3,277.0 L380.3,277.0 L380.3,278.5 L381.3,278.5 L381.3,282.4 L382.3,282.4 L382.3,275.3 L383.3,275.3 L383.3,273.4 L384.3,273.4 L384.3,269.9 L385.3,269.9 L385.3,264.6 L386.3,264.6 L386.3,263.1 L387.3,263.1 L387.3,256.7 L388.3,256.7 L388.3,251.5 L389.3,251.5 L389.3,247.8 L390.3,247.8 L390.3,238.6 L391.3,238.6 L391.3,242.6 L392.3,242.6 L392.3,241.4 L393.3,241.4 L393.3,240.9 L394.3,240.9 L394.3,243.5 L395.3,243.5 L395.3,237.8 L396.3,237.8 L396.3,238.4 L397.3,238.4 L397.3,233.4 L398.3,233.4 L398.3,229.3 L399.3,229.3 L399.3,228.0 L400.3,228.0 L400.3,221.7 L401.3,221.7 L401.3,215.8 L402.3,215.8 L402.3,214.0 L403.3,214.0 L403.3,198.3 L404.3,198.3 L404.3,190.6 L405.3,190.6 L405.3,192.0 L406.3,192.0 L406.3,202.4 L407.3,202.4 L407.3,206.1 L408.3,206.1 L408.3,205.4 L409.3,205.4 L409.3,207.1 L410.3,207.1 L410.3,207.7 L411.3,207.7 L411.3,217.2 L412.3,217.2 L412.3,228.4 L413.3,228.4 L413.3,238.3 L414.3,238.3 L414.3,248.7 L415.3,248.7 L415.3,255.9 L416.3,255.9 L416.3,264.5 L417.3,264.5 L417.3,274.4 L418.3,274.4 L418.3,278.6 L419.3,278.6 L419.3,284.0 L420.3,284.0 L420.3,286.7 L421.3,286.7 L421.3,285.2 L422.3,285.2 L422.3,286.1 L423.3,286.1 L423.3,287.8 L424.3,287.8 L424.3,287.0 L425.3,287.0 L425.3,288.0 L426.3,288.0 L426.3,287.6 L427.3,287.6 L427.3,288.9 L428.3,288.9 L428.3,289.7 L429.3,289.7 L429.3,289.3 L430.3,289.3 L430.3,291.6 L431.3,291.6 L431.3,291.5 L432.3,291.5 L432.3,289.9 L433.3,289.9 L433.3,292.0 L434.3,292.0 L434.3,289.5 L435.3,289.5 L435.3,289.4 L436.3,289.4 L436.3,289.7 L437.3,289.7 L437.3,291.9 L438.3,291.9 L438.3,292.8 L439.3,292.8 L439.3,292.1 L440.3,292.1 L440.3,290.5 L441.3,290.5 L441.3,289.4 L442.3,289.4 L442.3,287.1 L443.3,287.1 L443.3,288.0 L444.3,288.0 L444.3,286.3 L445.3,286.3 L445.3,284.5 L446.3,284.5 L446.3,285.5 L447.3,285.5 L447.3,284.5 L448.3,284.5 L448.3,286.3 L449.3,286.3 L449.3,285.4 L450.3,285.4 L450.3,283.9 L451.3,283.9 L451.3,287.3 L452.3,287.3 L452.3,284.5 L453.3,284.5 L453.3,287.3 L454.3,287.3 L454.3,289.2 L455.3,289.2 L455.3,291.0 L456.3,291.0 L456.3,292.9 L457.3,292.9 L457.3,296.2 L458.3,296.2 L458.3,294.7 L459.3,294.7 L459.3,296.3 L460.3,296.3 L460.3,297.5 L461.3,297.5 L461.3,296.0 L462.3,296.0 L462.3,296.5 L463.3,296.5 L463.3,297.9 L464.3,297.9 L464.3,298.3 L465.3,298.3 L465.3,299.2 L466.3,299.2 L466.3,300.1 L467.3,300.1 L467.3,299.6 L468.3,299.6 L468.3,299.3 L469.3,299.3 L469.3,298.7 L470.3,298.7 L470.3,297.5 L471.3,297.5 L471.3,298.6 L472.3,298.6 L472.3,297.8 L473.3,297.8 L473.3,297.6 L474.3,297.6 L474.3,296.4 L475.3,296.4 L475.3,298.4 L476.3,298.4 L476.3,298.5 L477.3,298.5 L477.3,298.3 L478.3,298.3 L478.3,299.1 L479.3,299.1 L479.3,298.9 L480.3,298.9 L480.3,299.0 L481.3,299.0 L481.3,299.3 L482.3,299.3 L482.3,300.0 L483.3,300.0 L483.3,300.2 L484.3,300.2 L484.3,301.1 L485.3,301.1 L485.3,301.9 L486.3,301.9 L486.3,301.9 L487.3,301.9 L487.3,302.2 L488.3,302.2 L488.3,302.1 L489.3,302.1 L489.3,301.6 L490.3,301.6 L490.3,302.1 L491.3,302.1 L491.3,302.1 L492.3,302.1 L492.3,302.4 L493.3,302.4 L493.3,302.0 L494.3,302.0 L494.3,301.5 L495.3,301.5 L495.3,301.9 L496.3,301.9 L496.3,302.3 L497.3,302.3 L497.3,301.1 L498.3,301.1 L498.3,301.9 L499.3,301.9 L499.3,300.5 L500.3,300.5 L500.3,300.7 L501.3,300.7 L501.3,300.5 L502.3,300.5 L502.3,301.1 L503.3,301.1 L503.3,301.3 L504.3,301.3 L504.3,300.9 L505.3,300.9 L505.3,300.3 L506.3,300.3 L506.3,301.1 L507.3,301.1 L507.3,300.3 L508.3,300.3 L508.3,300.1 L509.3,300.1 L509.3,301.2 L510.3,301.2 L510.3,301.1 L511.3,301.1 L511.3,302.9 L512.0,302.9 L512.0,310.5 Z " fill="#0000ff"/>
<path d="M61.3,310.5 L61.3,303.3 L62.3,303.3 L62.3,303.7 L63.3,303.7 L63.3,303.0 L64.3,303.0 L64.3,303.5 L65.3,303.5 L65.3,303.3 L66.3,303.3 L66.3,303.5 L67.3,303.5 L67.3,303.0 L68.3,303.0 L68.3,303.3 L69.3,303.3 L69.3,303.1 L70.3,303.1 L70.3,302.7 L71.3,302.7 L71.3,302.5 L72.3,302.5 L72.3,302.9 L73.3,302.9 L73.3,302.2 L74.3,302.2 L74.3,303.2 L75.3,303.2 L75.3,302.1 L76.3,302.1 L76.3,301.7 L77.3,301.7 L77.3,301.5 L78.3,301.5 L78.3,302.4 L79.3,302.4 L79.3,301.2 L80.3,301.2 L80.3,300.7 L81.3,300.7 L81.3,300.2 L82.3,300.2 L82.3,299.9 L83.3,299.9 L83.3,299.5 L84.3,299.5 L84.3,297.1 L85.3,297.1 L85.3,295.0 L86.3,295.0 L86.3,292.9 L87.3,292.9 L87.3,290.7 L88.3,290.7 L88.3,294.0 L89.3,294.0 L89.3,295.3 L90.3,295.3 L90.3,298.2 L91.3,298.2 L91.3,299.9 L92.3,299.9 L92.3,301.2 L93.3,301.2 L93.3,300.1 L94.3,300.1 L94.3,301.6 L95.3,301.6 L95.3,301.8 L96.3,301.8 L96.3,302.1 L97.3,302.1 L97.3,301.1 L98.3,301.1 L98.3,301.4 L99.3,301.4 L99.3,301.5 L100.3,301.5 L100.3,301.6 L101.3,301.6 L101.3,302.7 L102.3,302.7 L102.3,302.7 L103.3,302.7 L103.3,302.5 L104.3,302.5 L104.3,302.8 L105.3,302.8 L105.3,302.5 L106.3,302.5 L106.3,302.1 L107.3,302.1 L107.3,301.9 L108.3,301.9 L108.3,301.9 L109.3,301.9 L109.3,302.8 L110.3,302.8 L110.3,302.1 L111.3,302.1 L111.3,302.3 L112.3,302.3 L112.3,302.4 L113.3,302.4 L113.3,301.5 L114.3,301.5 L114.3,301.5 L115.3,301.5 L115.3,301.1 L116.3,301.1 L116.3,301.5 L117.3,301.5 L117.3,300.6 L118.3,300.6 L118.3,300.2 L119.3,300.2 L119.3,300.9 L120.3,300.9 L120.3,299.8 L121.3,299.8 L121.3,300.1 L122.3,300.1 L122.3,299.3 L123.3,299.3 L123.3,297.8 L124.3,297.8 L124.3,297.8 L125.3,297.8 L125.3,297.1 L126.3,297.1 L126.3,297.2 L127.3,297.2 L127.3,295.9 L128.3,295.9 L128.3,297.7 L129.3,297.7 L129.3,298.9 L130.3,298.9 L130.3,300.0 L131.3,300.0 L131.3,302.6 L132.3,302.6 L132.3,301.8 L133.3,301.8 L133.3,302.9 L134.3,302.9 L134.3,302.1 L135.3,302.1 L135.3,302.0 L136.3,302.0 L136.3,302.4 L137.3,302.4 L137.3,303.2 L138.3,303.2 L138.3,303.6 L139.3,303.6 L139.3,302.6 L140.3,302.6 L140.3,303.2 L141.3,303.2 L141.3,303.4 L142.3,303.4 L142.3,303.8 L143.3,303.8 L143.3,303.3 L144.3,303.3 L144.3,303.7 L145.3,303.7 L145.3,303.7 L146.3,303.7 L146.3,303.9 L147.3,303.9 L147.3,303.0 L148.3,303.0 L148.3,303.5 L149.3,303.5 L149.3,302.4 L150.3,302.4 L150.3,301.8 L151.3,301.8 L151.3,301.9 L152.3,301.9 L152.3,301.1 L153.3,301.1 L153.3,300.4 L154.3,300.4 L154.3,301.7 L155.3,301.7 L155.3,301.5 L156.3,301.5 L156.3,303.0 L157.3,303.0 L157.3,303.4 L158.3,303.4 L158.3,303.9 L159.3,303.9 L159.3,304.2 L160.3,304.2 L160.3,304.4 L161.3,304.4 L161.3,304.6 L162.3,304.6 L162.3,304.5 L163.3,304.5 L163.3,305.0 L164.3,305.0 L164.3,304.1 L165.3,304.1 L165.3,304.9 L166.3,304.9 L166.3,304.0 L167.3,304.0 L167.3,304.1 L168.3,304.1 L168.3,304.1 L169.3,304.1 L169.3,304.7 L170.3,304.7 L170.3,304.2 L171.3,304.2 L171.3,304.1 L172.3,304.1 L172.3,304.5 L173.3,304.5 L173.3,303.8 L174.3,303.8 L174.3,304.0 L175.3,304.0 L175.3,304.0 L176.3,304.0 L176.3,304.2 L177.3,304.2 L177.3,304.0 L178.3,304.0 L178.3,303.7 L179.3,303.7 L179.3,303.2 L180.3,303.2 L180.3,303.0 L181.3,303.0 L181.3,302.6 L182.3,302.6 L182.3,303.2 L183.3,303.2 L183.3,302.8 L184.3,302.8 L184.3,302.7 L185.3,302.7 L185.3,301.6 L186.3,301.6 L186.3,301.7 L187.3,301.7 L187.3,301.8 L188.3,301.8 L188.3,301.2 L189.3,301.2 L189.3,300.3 L190.3,300.3 L190.3,300.8 L191.3,300.8 L191.3,301.4 L192.3,301.4 L192.3,300.3 L193.3,300.3 L193.3,300.2 L194.3,300.2 L194.3,300.3 L195.3,300.3 L195.3,300.9 L196.3,300.9 L196.3,301.1 L197.3,301.1 L197.3,300.0 L198.3,300.0 L198.3,300.2 L199.3,300.2 L199.3,300.6 L200.3,300.6 L200.3,301.0 L201.3,301.0 L201.3,301.5 L202.3,301.5 L202.3,301.2 L203.3,301.2 L203.3,301.8 L204.3,301.8 L204.3,302.2 L205.3,302.2 L205.3,303.8 L206.3,303.8 L206.3,304.0 L207.3,304.0 L207.3,303.7 L208.3,303.7 L208.3,304.8 L209.3,304.8 L209.3,304.2 L210.3,304.2 L210.3,304.7 L211.3,304.7 L211.3,305.4 L212.3,305.4 L212.3,305.5 L213.3,305.5 L213.3,305.7 L214.3,305.7 L214.3,305.5 L215.3,305.5 L215.3,305.3 L216.3,305.3 L216.3,305.6 L217.3,305.6 L217.3,305.1 L218.3,305.1 L218.3,305.1 L219.3,305.1 L219.3,305.2 L220.3,305.2 L220.3,304.9 L221.3,304.9 L221.3,305.2 L222.3,305.2 L222.3,305.4 L223.3,305.4 L223.3,305.3 L224.3,305.3 L224.3,305.1 L225.3,305.1 L225.3,305.2 L226.3,305.2 L226.3,305.0 L227.3,305.0 L227.3,304.6 L228.3,304.6 L228.3,305.0 L229.3,305.0 L229.3,304.8 L230.3,304.8 L230.3,305.0 L231.3,305.0 L231.3,305.2 L232.3,305.2 L232.3,304.6 L233.3,304.6 L233.3,304.6 L234.3,304.6 L234.3,304.7 L235.3,304.7 L235.3,304.3 L236.3,304.3 L236.3,304.0 L237.3,304.0 L237.3,304.4 L238.3,304.4 L238.3,304.5 L239.3,304.5 L239.3,304.2 L240.3,304.2 L240.3,304.1 L241.3,304.1 L241.3,304.1 L242.3,304.1 L242.3,303.8 L243.3,303.8 L243.3,303.7 L244.3,303.7 L244.3,303.4 L245.3,303.4 L245.3,303.1 L246.3,303.1 L246.3,303.4 L247.3,303.4 L247.3,302.7 L248.3,302.7 L248.3,302.2 L249.3,302.2 L249.3,301.1 L250.3,301.1 L250.3,299.5 L251.3,299.5 L251.3,297.7 L252.3,297.7 L252.3,296.3 L253.3,296.3 L253.3,296.4 L254.3,296.4 L254.3,296.2 L255.3,296.2 L255.3,296.3 L256.3,296.3 L256.3,295.4 L257.3,295.4 L257.3,295.9 L258.3,295.9 L258.3,296.6 L259.3,296.6 L259.3,295.1 L260.3,295.1 L260.3,296.5 L261.3,296.5 L261.3,297.1 L262.3,297.1 L262.3,296.5 L263.3,296.5 L263.3,296.6 L264.3,296.6 L264.3,297.1 L265.3,297.1 L265.3,294.2 L266.3,294.2 L266.3,294.7 L267.3,294.7 L267.3,293.1 L268.3,293.1 L268.3,294.1 L269.3,294.1 L269.3,294.2 L270.3,294.2 L270.3,293.4 L271.3,293.4 L271.3,293.7 L272.3,293.7 L272.3,296.1 L273.3,296.1 L273.3,297.4 L274.3,297.4 L274.3,299.0 L275.3,299.0 L275.3,300.0 L276.3,300.0 L276.3,301.5 L277.3,301.5 L277.3,303.1 L278.3,303.1 L278.3,304.0 L279.3,304.0 L279.3,303.8 L280.3,303.8 L280.3,304.4 L281.3,304.4 L281.3,303.5 L282.3,303.5 L282.3,303.7 L283.3,303.7 L283.3,303.0 L284.3,303.0 L284.3,303.2 L285.3,303.2 L285.3,302.1 L286.3,302.1 L286.3,302.9 L287.3,302.9 L287.3,299.9 L288.3,299.9 L288.3,297.1 L289.3,297.1 L289.3,295.3 L290.3,295.3 L290.3,293.4 L291.3,293.4 L291.3,290.1 L292.3,290.1 L292.3,289.2 L293.3,289.2 L293.3,287.1 L294.3,287.1 L294.3,286.2 L295.3,286.2 L295.3,282.7 L296.3,282.7 L296.3,280.2 L297.3,280.2 L297.3,279.7 L298.3,279.7 L298.3,282.9 L299.3,282.9 L299.3,284.7 L300.3,284.7 L300.3,283.8 L301.3,283.8 L301.3,283.4 L302.3,283.4 L302.3,287.7 L303.3,287.7 L303.3,291.2 L304.3,291.2 L304.3,295.8 L305.3,295.8 L305.3,298.5 L306.3,298.5 L306.3,300.3 L307.3,300.3 L307.3,299.2 L308.3,299.2 L308.3,296.5 L309.3,296.5 L309.3,293.6 L310.3,293.6 L310.3,291.4 L311.3,291.4 L311.3,287.8 L312.3,287.8 L312.3,288.6 L313.3,288.6 L313.3,285.8 L314.3,285.8 L314.3,286.5 L315.3,286.5 L315.3,286.7 L316.3,286.7 L316.3,286.6 L317.3,286.6 L317.3,286.0 L318.3,286.0 L318.3,286.8 L319.3,286.8 L319.3,289.3 L320.3,289.3 L320.3,289.4 L321.3,289.4 L321.3,292.3 L322.3,292.3 L322.3,290.0 L323.3,290.0 L323.3,290.9 L324.3,290.9 L324.3,288.1 L325.3,288.1 L325.3,287.6 L326.3,287.6 L326.3,286.4 L327.3,286.4 L327.3,286.7 L328.3,286.7 L328.3,286.1 L329.3,286.1 L329.3,286.1 L330.3,286.1 L330.3,289.3 L331.3,289.3 L331.3,288.4 L332.3,288.4 L332.3,288.9 L333.3,288.9 L333.3,287.7 L334.3,287.7 L334.3,286.4 L335.3,286.4 L335.3,284.4 L336.3,284.4 L336.3,283.6 L337.3,283.6 L337.3,282.2 L338.3,282.2 L338.3,279.3 L339.3,279.3 L339.3,280.6 L340.3,280.6 L340.3,278.6 L341.3,278.6 L341.3,274.3 L342.3,274.3 L342.3,279.5 L343.3,279.5 L343.3,281.5 L344.3,281.5 L344.3,282.3 L345.3,282.3 L345.3,280.8 L346.3,280.8 L346.3,285.6 L347.3,285.6 L347.3,287.4 L348.3,287.4 L348.3,287.9 L349.3,287.9 L349.3,290.7 L350.3,290.7 L350.3,295.5 L351.3,295.5 L351.3,295.7 L352.3,295.7 L352.3,295.6 L353.3,295.6 L353.3,296.3 L354.3,296.3 L354.3,297.3 L355.3,297.3 L355.3,298.5 L356.3,298.5 L356.3,300.4 L357.3,300.4 L357.3,299.9 L358.3,299.9 L358.3,298.4 L359.3,298.4 L359.3,298.8 L360.3,298.8 L360.3,297.5 L361.3,297.5 L361.3,294.9 L362.3,294.9 L362.3,295.6 L363.3,295.6 L363.3,293.8 L364.3,293.8 L364.3,293.2 L365.3,293.2 L365.3,291.8 L366.3,291.8 L366.3,291.5 L367.3,291.5 L367.3,290.1 L368.3,290.1 L368.3,289.2 L369.3,289.2 L369.3,286.0 L370.3,286.0 L370.3,288.1 L371.3,288.1 L371.3,288.4 L372.3,288.4 L372.3,290.0 L373.3,290.0 L373.3,289.9 L374.3,289.9 L374.3,292.3 L375.3,292.3 L375.3,292.1 L376.3,292.1 L376.3,292.2 L377.3,292.2 L377.3,293.1 L378.3,293.1 L378.3,295.0 L379.3,295.0 L379.3,298.3 L380.3,298.3 L380.3,300.1 L381.3,300.1 L381.3,297.4 L382.3,297.4 L382.3,290.4 L383.3,290.4 L383.3,285.4 L384.3,285.4 L384.3,279.4 L385.3,279.4 L385.3,273.1 L386.3,273.1 L386.3,274.5 L387.3,274.5 L387.3,273.1 L388.3,273.1 L388.3,280.3 L389.3,280.3 L389.3,281.3 L390.3,281.3 L390.3,284.5 L391.3,284.5 L391.3,286.9 L392.3,286.9 L392.3,286.7 L393.3,286.7 L393.3,283.9 L394.3,283.9 L394.3,283.1 L395.3,283.1 L395.3,284.6 L396.3,284.6 L396.3,277.2 L397.3,277.2 L397.3,276.4 L398.3,276.4 L398.3,272.8 L399.3,272.8 L399.3,266.2 L400.3,266.2 L400.3,265.5 L401.3,265.5 L401.3,262.2 L402.3,262.2 L402.3,262.3 L403.3,262.3 L403.3,261.3 L404.3,261.3 L404.3,267.6 L405.3,267.6 L405.3,268.2 L406.3,268.2 L406.3,271.1 L407.3,271.1 L407.3,276.1 L408.3,276.1 L408.3,275.7 L409.3,275.7 L409.3,283.3 L410.3,283.3 L410.3,286.8 L411.3,286.8 L411.3,289.9 L412.3,289.9 L412.3,295.4 L413.3,295.4 L413.3,298.3 L414.3,298.3 L414.3,299.7 L415.3,299.7 L415.3,298.9 L416.3,298.9 L416.3,298.4 L417.3,298.4 L417.3,296.3 L418.3,296.3 L418.3,295.9 L419.3,295.9 L419.3,295.0 L420.3,295.0 L420.3,295.4 L421.3,295.4 L421.3,296.7 L422.3,296.7 L422.3,296.2 L423.3,296.2 L423.3,298.0 L424.3,298.0 L424.3,297.7 L425.3,297.7 L425.3,298.6 L426.3,298.6 L426.3,299.0 L427.3,299.0 L427.3,300.3 L428.3,300.3 L428.3,302.0 L429.3,302.0 L429.3,302.4 L430.3,302.4 L430.3,303.5 L431.3,303.5 L431.3,303.8 L432.3,303.8 L432.3,303.9 L433.3,303.9 L433.3,304.0 L434.3,304.0 L434.3,304.4 L435.3,304.4 L435.3,304.5 L436.3,304.5 L436.3,304.8 L437.3,304.8 L437.3,304.2 L438.3,304.2 L438.3,304.6 L439.3,304.6 L439.3,304.4 L440.3,304.4 L440.3,303.5 L441.3,303.5 L441.3,302.5 L442.3,302.5 L442.3,302.3 L443.3,302.3 L443.3,301.4 L444.3,301.4 L444.3,301.1 L445.3,301.1 L445.3,301.6 L446.3,301.6 L446.3,300.6 L447.3,300.6 L447.3,300.1 L448.3,300.1 L448.3,300.2 L449.3,300.2 L449.3,301.0 L450.3,301.0 L450.3,301.4 L451.3,301.4 L451.3,302.3 L452.3,302.3 L452.3,303.2 L453.3,303.2 L453.3,304.2 L454.3,304.2 L454.3,304.4 L455.3,304.4 L455.3,304.7 L456.3,304.7 L456.3,304.6 L457.3,304.6 L457.3,305.3 L458.3,305.3 L458.3,305.4 L459.3,305.4 L459.3,305.4 L460.3,305.4 L460.3,304.5 L461.3,304.5 L461.3,304.2 L462.3,304.2 L462.3,303.7 L463.3,303.7 L463.3,304.2 L464.3,304.2 L464.3,304.4 L465.3,304.4 L465.3,304.3 L466.3,304.3 L466.3,304.1 L467.3,304.1 L467.3,304.7 L468.3,304.7 L468.3,304.8 L469.3,304.8 L469.3,304.6 L470.3,304.6 L470.3,303.8 L471.3,303.8 L471.3,303.4 L472.3,303.4 L472.3,303.0 L473.3,303.0 L473.3,302.9 L474.3,302.9 L474.3,303.1 L475.3,303.1 L475.3,303.5 L476.3,303.5 L476.3,304.0 L477.3,304.0 L477.3,303.2 L478.3,303.2 L478.3,303.9 L479.3,303.9 L479.3,303.5 L480.3,303.5 L480.3,303.9 L481.3,303.9 L481.3,304.8 L482.3,304.8 L482.3,304.8 L483.3,304.8 L483.3,305.3 L484.3,305.3 L484.3,305.1 L485.3,305.1 L485.3,305.0 L486.3,305.0 L486.3,305.5 L487.3,305.5 L487.3,305.8 L488.3,305.8 L488.3,306.1 L489.3,306.1 L489.3,306.2 L490.3,306.2 L490.3,305.9 L491.3,305.9 L491.3,306.0 L492.3,306.0 L492.3,305.8 L493.3,305.8 L493.3,306.3 L494.3,306.3 L494.3,306.0 L495.3,306.0 L495.3,306.1 L496.3,306.1 L496.3,306.1 L497.3,306.1 L497.3,306.1 L498.3,306.1 L498.3,306.6 L499.3,306.6 L499.3,306.2 L500.3,306.2 L500.3,306.8 L501.3,306.8 L501.3,306.2 L502.3,306.2 L502.3,306.7 L503.3,306.7 L503.3,306.2 L504.3,306.2 L504.3,306.2 L505.3,306.2 L505.3,306.6 L506.3,306.6 L506.3,306.3 L507.3,306.3 L507.3,306.6 L508.3,306.6 L508.3,306.3 L509.3,306.3 L509.3,306.2 L510.3,306.2 L510.3,306.7 L511.3,306.7 L511.3,306.6 L512.0,306.6 L512.0,310.5 Z " fill="#808000"/>
<path d="M61.3,310.5 L61.3,301.9 L62.3,301.9 L62.3,300.9 L63.3,300.9 L63.3,299.0 L64.3,299.0 L64.3,299.1 L65.3,299.1 L65.3,299.2 L66.3,299.2 L66.3,299.2 L67.3,299.2 L67.3,300.5 L68.3,300.5 L68.3,299.8 L69.3,299.8 L69.3,301.3 L70.3,301.3 L70.3,301.0 L71.3,301.0 L71.3,300.0 L72.3,300.0 L72.3,300.2 L73.3,300.2 L73.3,301.3 L74.3,301.3 L74.3,301.6 L75.3,301.6 L75.3,300.6 L76.3,300.6 L76.3,301.1 L77.3,301.1 L77.3,301.9 L78.3,301.9 L78.3,301.3 L79.3,301.3 L79.3,302.4 L80.3,302.4 L80.3,302.1 L81.3,302.1 L81.3,301.7 L82.3,301.7 L82.3,302.3 L83.3,302.3 L83.3,302.8 L84.3,302.8 L84.3,302.8 L85.3,302.8 L85.3,303.1 L86.3,303.1 L86.3,302.1 L87.3,302.1 L87.3,302.7 L88.3,302.7 L88.3,301.8 L89.3,301.8 L89.3,302.0 L90.3,302.0 L90.3,301.7 L91.3,301.7 L91.3,301.1 L92.3,301.1 L92.3,300.7 L93.3,300.7 L93.3,301.1 L94.3,301.1 L94.3,301.0 L95.3,301.0 L95.3,300.3 L96.3,300.3 L96.3,299.4 L97.3,299.4 L97.3,298.5 L98.3,298.5 L98.3,297.5 L99.3,297.5 L99.3,298.9 L100.3,298.9 L100.3,298.2 L101.3,298.2 L101.3,298.3 L102.3,298.3 L102.3,297.2 L103.3,297.2 L103.3,297.6 L104.3,297.6 L104.3,298.2 L105.3,298.2 L105.3,297.9 L106.3,297.9 L106.3,297.9 L107.3,297.9 L107.3,298.2 L108.3,298.2 L108.3,299.4 L109.3,299.4 L109.3,301.1 L110.3,301.1 L110.3,300.3 L111.3,300.3 L111.3,300.8 L112.3,300.8 L112.3,300.7 L113.3,300.7 L113.3,301.2 L114.3,301.2 L114.3,301.0 L115.3,301.0 L115.3,300.2 L116.3,300.2 L116.3,299.7 L117.3,299.7 L117.3,300.1 L118.3,300.1 L118.3,300.4 L119.3,300.4 L119.3,300.8 L120.3,300.8 L120.3,301.3 L121.3,301.3 L121.3,301.6 L122.3,301.6 L122.3,300.4 L123.3,300.4 L123.3,301.8 L124.3,301.8 L124.3,301.9 L125.3,301.9 L125.3,302.2 L126.3,302.2 L126.3,302.0 L127.3,302.0 L127.3,301.8 L128.3,301.8 L128.3,302.8 L129.3,302.8 L129.3,303.0 L130.3,303.0 L130.3,303.1 L131.3,303.1 L131.3,303.6 L132.3,303.6 L132.3,303.5 L133.3,303.5 L133.3,304.0 L134.3,304.0 L134.3,305.1 L135.3,305.1 L135.3,305.5 L136.3,305.5 L136.3,304.7 L137.3,304.7 L137.3,305.0 L138.3,305.0 L138.3,304.9 L139.3,304.9 L139.3,303.9 L140.3,303.9 L140.3,304.0 L141.3,304.0 L141.3,303.8 L142.3,303.8 L142.3,303.3 L143.3,303.3 L143.3,302.7 L144.3,302.7 L144.3,302.8 L145.3,302.8 L145.3,303.8 L146.3,303.8 L146.3,304.2 L147.3,304.2 L147.3,304.2 L148.3,304.2 L148.3,304.2 L149.3,304.2 L149.3,305.2 L150.3,305.2 L150.3,305.6 L151.3,305.6 L151.3,305.5 L152.3,305.5 L152.3,306.1 L153.3,306.1 L153.3,306.5 L154.3,306.5 L154.3,306.3 L155.3,306.3 L155.3,305.8 L156.3,305.8 L156.3,305.6 L157.3,305.6 L157.3,305.4 L158.3,305.4 L158.3,304.8 L159.3,304.8 L159.3,304.6 L160.3,304.6 L160.3,304.4 L161.3,304.4 L161.3,304.7 L162.3,304.7 L162.3,304.2 L163.3,304.2 L163.3,304.3 L164.3,304.3 L164.3,304.0 L165.3,304.0 L165.3,303.9 L166.3,303.9 L166.3,303.4 L167.3,303.4 L167.3,303.1 L168.3,303.1 L168.3,304.0 L169.3,304.0 L169.3,303.2 L170.3,303.2 L170.3,302.7 L171.3,302.7 L171.3,303.2 L172.3,303.2 L172.3,303.5 L173.3,303.5 L173.3,302.9 L174.3,302.9 L174.3,303.6 L175.3,303.6 L175.3,303.5 L176.3,303.5 L176.3,303.8 L177.3,303.8 L177.3,303.4 L178.3,303.4 L178.3,303.6 L179.3,303.6 L179.3,304.7 L180.3,304.7 L180.3,304.8 L181.3,304.8 L181.3,304.5 L182.3,304.5 L182.3,304.8 L183.3,304.8 L183.3,304.6 L184.3,304.6 L184.3,305.1 L185.3,305.1 L185.3,304.9 L186.3,304.9 L186.3,305.4 L187.3,305.4 L187.3,305.3 L188.3,305.3 L188.3,305.4 L189.3,305.4 L189.3,305.6 L190.3,305.6 L190.3,305.1 L191.3,305.1 L191.3,305.0 L192.3,305.0 L192.3,305.2 L193.3,305.2 L193.3,305.2 L194.3,305.2 L194.3,305.2 L195.3,305.2 L195.3,305.2 L196.3,305.2 L196.3,305.7 L197.3,305.7 L197.3,305.9 L198.3,305.9 L198.3,305.6 L199.3,305.6 L199.3,306.0 L200.3,306.0 L200.3,305.9 L201.3,305.9 L201.3,305.3 L202.3,305.3 L202.3,305.7 L203.3,305.7 L203.3,305.5 L204.3,305.5 L204.3,305.3 L205.3,305.3 L205.3,306.0 L206.3,306.0 L206.3,305.4 L207.3,305.4 L207.3,305.7 L208.3,305.7 L208.3,305.7 L209.3,305.7 L209.3,306.0 L210.3,306.0 L210.3,305.8 L211.3,305.8 L211.3,305.5 L212.3,305.5 L212.3,305.6 L213.3,305.6 L213.3,305.3 L214.3,305.3 L214.3,305.9 L215.3,305.9 L215.3,305.9 L216.3,305.9 L216.3,305.2 L217.3,305.2 L217.3,305.0 L218.3,305.0 L218.3,305.2 L219.3,305.2 L219.3,305.2 L220.3,305.2 L220.3,305.6 L221.3,305.6 L221.3,305.6 L222.3,305.6 L222.3,305.5 L223.3,305.5 L223.3,304.8 L224.3,304.8 L224.3,305.4 L225.3,305.4 L225.3,305.2 L226.3,305.2 L226.3,305.1 L227.3,305.1 L227.3,305.4 L228.3,305.4 L228.3,304.5 L229.3,304.5 L229.3,304.5 L230.3,304.5 L230.3,305.1 L231.3,305.1 L231.3,305.2 L232.3,305.2 L232.3,304.9 L233.3,304.9 L233.3,304.7 L234.3,304.7 L234.3,305.0 L235.3,305.0 L235.3,305.3 L236.3,305.3 L236.3,304.8 L237.3,304.8 L237.3,305.1 L238.3,305.1 L238.3,305.1 L239.3,305.1 L239.3,305.1 L240.3,305.1 L240.3,305.5 L241.3,305.5 L241.3,305.3 L242.3,305.3 L242.3,305.4 L243.3,305.4 L243.3,305.3 L244.3,305.3 L244.3,305.8 L245.3,305.8 L245.3,305.2 L246.3,305.2 L246.3,305.8 L247.3,305.8 L247.3,305.4 L248.3,305.4 L248.3,305.3 L249.3,305.3 L249.3,306.0 L250.3,306.0 L250.3,305.1 L251.3,305.1 L251.3,305.3 L252.3,305.3 L252.3,304.8 L253.3,304.8 L253.3,304.4 L254.3,304.4 L254.3,303.1 L255.3,303.1 L255.3,303.0 L256.3,303.0 L256.3,302.0 L257.3,302.0 L257.3,302.8 L258.3,302.8 L258.3,302.8 L259.3,302.8 L259.3,302.8 L260.3,302.8 L260.3,302.9 L261.3,302.9 L261.3,303.1 L262.3,303.1 L262.3,303.9 L263.3,303.9 L263.3,303.4 L264.3,303.4 L264.3,303.0 L265.3,303.0 L265.3,301.7 L266.3,301.7 L266.3,301.2 L267.3,301.2 L267.3,300.3 L268.3,300.3 L268.3,300.9 L269.3,300.9 L269.3,300.7 L270.3,300.7 L270.3,300.2 L271.3,300.2 L271.3,301.5 L272.3,301.5 L272.3,300.7 L273.3,300.7 L273.3,301.1 L274.3,301.1 L274.3,300.8 L275.3,300.8 L275.3,302.4 L276.3,302.4 L276.3,304.6 L277.3,304.6 L277.3,305.8 L278.3,305.8 L278.3,307.2 L279.3,307.2 L279.3,307.5 L280.3,307.5 L280.3,307.6 L281.3,307.6 L281.3,308.0 L282.3,308.0 L282.3,307.8 L283.3,307.8 L283.3,307.6 L284.3,307.6 L284.3,305.6 L285.3,305.6 L285.3,304.9 L286.3,304.9 L286.3,303.4 L287.3,303.4 L287.3,301.4 L288.3,301.4 L288.3,300.3 L289.3,300.3 L289.3,298.4 L290.3,298.4 L290.3,296.8 L291.3,296.8 L291.3,295.0 L292.3,295.0 L292.3,293.8 L293.3,293.8 L293.3,294.1 L294.3,294.1 L294.3,293.0 L295.3,293.0 L295.3,291.9 L296.3,291.9 L296.3,288.3 L297.3,288.3 L297.3,288.0 L298.3,288.0 L298.3,290.1 L299.3,290.1 L299.3,288.9 L300.3,288.9 L300.3,292.9 L301.3,292.9 L301.3,293.5 L302.3,293.5 L302.3,297.0 L303.3,297.0 L303.3,296.2 L304.3,296.2 L304.3,299.2 L305.3,299.2 L305.3,299.7 L306.3,299.7 L306.3,298.9 L307.3,298.9 L307.3,298.0 L308.3,298.0 L308.3,299.0 L309.3,299.0 L309.3,297.8 L310.3,297.8 L310.3,296.3 L311.3,296.3 L311.3,295.0 L312.3,295.0 L312.3,294.4 L313.3,294.4 L313.3,290.5 L314.3,290.5 L314.3,289.8 L315.3,289.8 L315.3,286.4 L316.3,286.4 L316.3,285.7 L317.3,285.7 L317.3,288.5 L318.3,288.5 L318.3,289.2 L319.3,289.2 L319.3,288.3 L320.3,288.3 L320.3,288.9 L321.3,288.9 L321.3,289.0 L322.3,289.0 L322.3,290.7 L323.3,290.7 L323.3,290.0 L324.3,290.0 L324.3,287.8 L325.3,287.8 L325.3,286.1 L326.3,286.1 L326.3,286.3 L327.3,286.3 L327.3,286.1 L328.3,286.1 L328.3,287.5 L329.3,287.5 L329.3,288.5 L330.3,288.5 L330.3,289.0 L331.3,289.0 L331.3,290.6 L332.3,290.6 L332.3,295.6 L333.3,295.6 L333.3,298.0 L334.3,298.0 L334.3,301.8 L335.3,301.8 L335.3,301.0 L336.3,301.0 L336.3,300.3 L337.3,300.3 L337.3,297.6 L338.3,297.6 L338.3,296.9 L339.3,296.9 L339.3,295.2 L340.3,295.2 L340.3,293.7 L341.3,293.7 L341.3,292.7 L342.3,292.7 L342.3,295.4 L343.3,295.4 L343.3,294.5 L344.3,294.5 L344.3,295.8 L345.3,295.8 L345.3,294.6 L346.3,294.6 L346.3,295.0 L347.3,295.0 L347.3,297.9 L348.3,297.9 L348.3,298.4 L349.3,298.4 L349.3,299.5 L350.3,299.5 L350.3,300.9 L351.3,300.9 L351.3,301.5 L352.3,301.5 L352.3,300.8 L353.3,300.8 L353.3,301.8 L354.3,301.8 L354.3,301.9 L355.3,301.9 L355.3,302.3 L356.3,302.3 L356.3,302.0 L357.3,302.0 L357.3,303.0 L358.3,303.0 L358.3,303.3 L359.3,303.3 L359.3,303.4 L360.3,303.4 L360.3,301.3 L361.3,301.3 L361.3,300.5 L362.3,300.5 L362.3,298.6 L363.3,298.6 L363.3,297.9 L364.3,297.9 L364.3,295.0 L365.3,295.0 L365.3,295.6 L366.3,295.6 L366.3,294.5 L367.3,294.5 L367.3,291.8 L368.3,291.8 L368.3,290.5 L369.3,290.5 L369.3,289.5 L370.3,289.5 L370.3,290.0 L371.3,290.0 L371.3,290.0 L372.3,290.0 L372.3,294.4 L373.3,294.4 L373.3,294.0 L374.3,294.0 L374.3,295.6 L375.3,295.6 L375.3,297.1 L376.3,297.1 L376.3,299.1 L377.3,299.1 L377.3,301.6 L378.3,301.6 L378.3,302.2 L379.3,302.2 L379.3,304.0 L380.3,304.0 L380.3,303.6 L381.3,303.6 L381.3,301.1 L382.3,301.1 L382.3,298.8 L383.3,298.8 L383.3,298.0 L384.3,298.0 L384.3,296.2 L385.3,296.2 L385.3,294.2 L386.3,294.2 L386.3,294.2 L387.3,294.2 L387.3,292.0 L388.3,292.0 L388.3,293.8 L389.3,293.8 L389.3,292.9 L390.3,292.9 L390.3,290.4 L391.3,290.4 L391.3,289.2 L392.3,289.2 L392.3,288.9 L393.3,288.9 L393.3,287.5 L394.3,287.5 L394.3,285.2 L395.3,285.2 L395.3,283.0 L396.3,283.0 L396.3,282.8 L397.3,282.8 L397.3,280.1 L398.3,280.1 L398.3,280.8 L399.3,280.8 L399.3,280.6 L400.3,280.6 L400.3,275.5 L401.3,275.5 L401.3,276.1 L402.3,276.1 L402.3,276.4 L403.3,276.4 L403.3,275.3 L404.3,275.3 L404.3,281.4 L405.3,281.4 L405.3,284.3 L406.3,284.3 L406.3,284.4 L407.3,284.4 L407.3,287.1 L408.3,287.1 L408.3,291.1 L409.3,291.1 L409.3,292.6 L410.3,292.6 L410.3,294.8 L411.3,294.8 L411.3,298.5 L412.3,298.5 L412.3,300.6 L413.3,300.6 L413.3,300.3 L414.3,300.3 L414.3,299.8 L415.3,299.8 L415.3,299.6 L416.3,299.6 L416.3,299.5 L417.3,299.5 L417.3,300.2 L418.3,300.2 L418.3,299.5 L419.3,299.5 L419.3,299.5 L420.3,299.5 L420.3,299.4 L421.3,299.4 L421.3,299.9 L422.3,299.9 L422.3,299.0 L423.3,299.0 L423.3,300.3 L424.3,300.3 L424.3,301.4 L425.3,301.4 L425.3,301.8 L426.3,301.8 L426.3,301.7 L427.3,301.7 L427.3,303.0 L428.3,303.0 L428.3,304.3 L429.3,304.3 L429.3,305.2 L430.3,305.2 L430.3,306.4 L431.3,306.4 L431.3,307.0 L432.3,307.0 L432.3,307.1 L433.3,307.1 L433.3,307.0 L434.3,307.0 L434.3,306.7 L435.3,306.7 L435.3,306.6 L436.3,306.6 L436.3,307.0 L437.3,307.0 L437.3,306.8 L438.3,306.8 L438.3,306.9 L439.3,306.9 L439.3,306.6 L440.3,306.6 L440.3,306.4 L441.3,306.4 L441.3,306.1 L442.3,306.1 L442.3,305.8 L443.3,305.8 L443.3,304.7 L444.3,304.7 L444.3,304.9 L445.3,304.9 L445.3,304.2 L446.3,304.2 L446.3,304.3 L447.3,304.3 L447.3,303.7 L448.3,303.7 L448.3,304.2 L449.3,304.2 L449.3,304.8 L450.3,304.8 L450.3,304.8 L451.3,304.8 L451.3,304.8 L452.3,304.8 L452.3,305.4 L453.3,305.4 L453.3,305.6 L454.3,305.6 L454.3,306.1 L455.3,306.1 L455.3,305.7 L456.3,305.7 L456.3,305.8 L457.3,305.8 L457.3,306.2 L458.3,306.2 L458.3,305.9 L459.3,305.9 L459.3,306.4 L460.3,306.4 L460.3,306.7 L461.3,306.7 L461.3,306.3 L462.3,306.3 L462.3,306.1 L463.3,306.1 L463.3,306.1 L464.3,306.1 L464.3,306.1 L465.3,306.1 L465.3,305.7 L466.3,305.7 L466.3,305.6 L467.3,305.6 L467.3,305.5 L468.3,305.5 L468.3,305.5 L469.3,305.5 L469.3,305.6 L470.3,305.6 L470.3,305.6 L471.3,305.6 L471.3,305.7 L472.3,305.7 L472.3,305.8 L473.3,305.8 L473.3,306.3 L474.3,306.3 L474.3,306.7 L475.3,306.7 L475.3,306.7 L476.3,306.7 L476.3,306.9 L477.3,306.9 L477.3,307.1 L478.3,307.1 L478.3,307.1 L479.3,307.1 L479.3,307.5 L480.3,307.5 L480.3,307.4 L481.3,307.4 L481.3,307.5 L482.3,307.5 L482.3,307.6 L483.3,307.6 L483.3,307.6 L484.3,307.6 L484.3,307.6 L485.3,307.6 L485.3,307.6 L486.3,307.6 L486.3,307.7 L487.3,307.7 L487.3,307.9 L488.3,307.9 L488.3,307.9 L489.3,307.9 L489.3,308.0 L490.3,308.0 L490.3,307.9 L491.3,307.9 L491.3,308.1 L492.3,308.1 L492.3,308.3 L493.3,308.3 L493.3,308.1 L494.3,308.1 L494.3,308.2 L495.3,308.2 L495.3,308.2 L496.3,308.2 L496.3,308.1 L497.3,308.1 L497.3,308.4 L498.3,308.4 L498.3,308.1 L499.3,308.1 L499.3,308.3 L500.3,308.3 L500.3,308.0 L501.3,308.0 L501.3,308.0 L502.3,308.0 L502.3,308.3 L503.3,308.3 L503.3,308.1 L504.3,308.1 L504.3,308.0 L505.3,308.0 L505.3,308.1 L506.3,308.1 L506.3,308.1 L507.3,308.1 L507.3,308.3 L508.3,308.3 L508.3,308.0 L509.3,308.0 L509.3,308.1 L510.3,308.1 L510.3,308.3 L511.3,308.3 L511.3,308.3 L512.0,308.3 L512.0,310.5 Z " fill="#ff00ff"/>
<path d="M61.5,13.5 H511.5 V310.5 H61.5 Z" fill="none" stroke="#808080" stroke-width="1.0"/>
<path d="M61.5,310.5 V315.5 M61.5,13.5 V18.5" stroke="#808080" stroke-width="1.0"/>
<text transform="translate(61.00,329.9) scale(0.94,1.1)" text-anchor="middle" class="tk">120000</text>
<path d="M89.5,310.5 V313.5 M89.5,13.5 V16.5" stroke="#808080" stroke-width="1.0"/>
<path d="M117.5,310.5 V315.5 M117.5,13.5 V18.5" stroke="#808080" stroke-width="1.0"/>
<text transform="translate(117.38,329.9) scale(0.94,1.1)" text-anchor="middle" class="tk">130000</text>
<path d="M145.5,310.5 V313.5 M145.5,13.5 V16.5" stroke="#808080" stroke-width="1.0"/>
<path d="M173.5,310.5 V315.5 M173.5,13.5 V18.5" stroke="#808080" stroke-width="1.0"/>
<text transform="translate(173.75,329.9) scale(0.94,1.1)" text-anchor="middle" class="tk">140000</text>
<path d="M201.5,310.5 V313.5 M201.5,13.5 V16.5" stroke="#808080" stroke-width="1.0"/>
<path d="M230.5,310.5 V315.5 M230.5,13.5 V18.5" stroke="#808080" stroke-width="1.0"/>
<text transform="translate(230.12,329.9) scale(0.94,1.1)" text-anchor="middle" class="tk">150000</text>
<path d="M258.5,310.5 V313.5 M258.5,13.5 V16.5" stroke="#808080" stroke-width="1.0"/>
<path d="M286.5,310.5 V315.5 M286.5,13.5 V18.5" stroke="#808080" stroke-width="1.0"/>
<text transform="translate(286.50,329.9) scale(0.94,1.1)" text-anchor="middle" class="tk">160000</text>
<path d="M314.5,310.5 V313.5 M314.5,13.5 V16.5" stroke="#808080" stroke-width="1.0"/>
<path d="M342.5,310.5 V315.5 M342.5,13.5 V18.5" stroke="#808080" stroke-width="1.0"/>
<text transform="translate(342.88,329.9) scale(0.94,1.1)" text-anchor="middle" class="tk">170000</text>
<path d="M371.5,310.5 V313.5 M371.5,13.5 V16.5" stroke="#808080" stroke-width="1.0"/>
<path d="M399.5,310.5 V315.5 M399.5,13.5 V18.5" stroke="#808080" stroke-width="1.0"/>
<text transform="translate(399.25,329.9) scale(0.94,1.1)" text-anchor="middle" class="tk">180000</text>
<path d="M427.5,310.5 V313.5 M427.5,13.5 V16.5" stroke="#808080" stroke-width="1.0"/>
<path d="M455.5,310.5 V315.5 M455.5,13.5 V18.5" stroke="#808080" stroke-width="1.0"/>
<text transform="translate(455.62,329.9) scale(0.94,1.1)" text-anchor="middle" class="tk">190000</text>
<path d="M483.5,310.5 V313.5 M483.5,13.5 V16.5" stroke="#808080" stroke-width="1.0"/>
<path d="M511.5,310.5 V315.5 M511.5,13.5 V18.5" stroke="#808080" stroke-width="1.0"/>
<text transform="translate(512.00,329.9) scale(0.94,1.1)" text-anchor="middle" class="tk">200000</text>
<path d="M56.5,310.5 H61.5 M506.5,310.5 H511.5" stroke="#808080" stroke-width="1.0"/>
<text transform="translate(51.00,313.30) scale(0.94,1.1)" text-anchor="end" class="tk">0</text>
<path d="M58.5,280.5 H61.5 M508.5,280.5 H511.5" stroke="#808080" stroke-width="1.0"/>
<path d="M56.5,251.5 H61.5 M506.5,251.5 H511.5" stroke="#808080" stroke-width="1.0"/>
<text transform="translate(51.00,253.90) scale(0.94,1.1)" text-anchor="end" class="tk">20</text>
<path d="M58.5,221.5 H61.5 M508.5,221.5 H511.5" stroke="#808080" stroke-width="1.0"/>
<path d="M56.5,191.5 H61.5 M506.5,191.5 H511.5" stroke="#808080" stroke-width="1.0"/>
<text transform="translate(51.00,194.50) scale(0.94,1.1)" text-anchor="end" class="tk">40</text>
<path d="M58.5,162.5 H61.5 M508.5,162.5 H511.5" stroke="#808080" stroke-width="1.0"/>
<path d="M56.5,132.5 H61.5 M506.5,132.5 H511.5" stroke="#808080" stroke-width="1.0"/>
<text transform="translate(51.00,135.10) scale(0.94,1.1)" text-anchor="end" class="tk">60</text>
<path d="M58.5,102.5 H61.5 M508.5,102.5 H511.5" stroke="#808080" stroke-width="1.0"/>
<path d="M56.5,72.5 H61.5 M506.5,72.5 H511.5" stroke="#808080" stroke-width="1.0"/>
<text transform="translate(51.00,75.70) scale(0.94,1.1)" text-anchor="end" class="tk">80</text>
<path d="M58.5,43.5 H61.5 M508.5,43.5 H511.5" stroke="#808080" stroke-width="1.0"/>
<path d="M56.5,13.5 H61.5 M506.5,13.5 H511.5" stroke="#808080" stroke-width="1.0"/>
<text transform="translate(51.00,16.30) scale(0.94,1.1)" text-anchor="end" class="tk">100</text>
<line x1="442" y1="30.3" x2="476" y2="30.3" stroke="#ff0000" stroke-width="1.5"/>
<text x="479" y="33.9" class="lg">0</text>
<line x1="442" y1="49.1" x2="476" y2="49.1" stroke="#00ff00" stroke-width="1.5"/>
<text x="479" y="52.7" class="lg">4</text>
<line x1="442" y1="67.9" x2="476" y2="67.9" stroke="#0000ff" stroke-width="1.5"/>
<text x="479" y="71.5" class="lg">9</text>
<line x1="442" y1="86.7" x2="476" y2="86.7" stroke="#ff00ff" stroke-width="1.5"/>
<text x="479" y="90.3" class="lg">10</text>
<line x1="442" y1="105.5" x2="476" y2="105.5" stroke="#808000" stroke-width="1.5"/>
<text x="479" y="109.1" class="lg">12</text>
<text transform="translate(286,350.3) scale(1,1.1)" text-anchor="middle" class="ax">Frequency (Hz)</text>
<text x="25.3" y="158.5" text-anchor="middle" class="ax" transform="rotate(-90 25.3 158.5)">Magnitude</text>
<path d="M612.2,307.7 L612.2,237.2 L613.2,237.2 L613.2,238.9 L614.2,238.9 L614.2,239.8 L615.2,239.8 L615.2,242.0 L616.2,242.0 L616.2,242.2 L617.2,242.2 L617.2,243.9 L618.2,243.9 L618.2,244.3 L619.2,244.3 L619.2,243.0 L620.2,243.0 L620.2,244.4 L621.2,244.4 L621.2,244.7 L622.2,244.7 L622.2,245.1 L623.2,245.1 L623.2,245.2 L624.2,245.2 L624.2,248.4 L625.2,248.4 L625.2,250.0 L626.2,250.0 L626.2,253.0 L627.2,253.0 L627.2,251.1 L628.2,251.1 L628.2,256.8 L629.2,256.8 L629.2,254.5 L630.2,254.5 L630.2,260.3 L631.2,260.3 L631.2,261.4 L632.2,261.4 L632.2,263.5 L633.2,263.5 L633.2,268.9 L634.2,268.9 L634.2,268.0 L635.2,268.0 L635.2,267.4 L636.2,267.4 L636.2,269.5 L637.2,269.5 L637.2,270.2 L638.2,270.2 L638.2,270.6 L639.2,270.6 L639.2,271.3 L640.2,271.3 L640.2,273.5 L641.2,273.5 L641.2,275.3 L642.2,275.3 L642.2,278.4 L643.2,278.4 L643.2,278.1 L644.2,278.1 L644.2,280.4 L645.2,280.4 L645.2,283.0 L646.2,283.0 L646.2,284.2 L647.2,284.2 L647.2,283.8 L648.2,283.8 L648.2,284.6 L649.2,284.6 L649.2,284.0 L650.2,284.0 L650.2,281.6 L651.2,281.6 L651.2,280.5 L652.2,280.5 L652.2,278.4 L653.2,278.4 L653.2,278.0 L654.2,278.0 L654.2,277.0 L655.2,277.0 L655.2,279.3 L656.2,279.3 L656.2,279.6 L657.2,279.6 L657.2,277.7 L658.2,277.7 L658.2,281.8 L659.2,281.8 L659.2,279.4 L660.2,279.4 L660.2,282.0 L661.2,282.0 L661.2,282.3 L662.2,282.3 L662.2,283.1 L663.2,283.1 L663.2,280.1 L664.2,280.1 L664.2,281.4 L665.2,281.4 L665.2,283.7 L666.2,283.7 L666.2,279.7 L667.2,279.7 L667.2,279.5 L668.2,279.5 L668.2,281.4 L669.2,281.4 L669.2,280.8 L670.2,280.8 L670.2,282.4 L671.2,282.4 L671.2,281.7 L672.2,281.7 L672.2,281.2 L673.2,281.2 L673.2,284.1 L674.2,284.1 L674.2,283.0 L675.2,283.0 L675.2,283.9 L676.2,283.9 L676.2,287.0 L677.2,287.0 L677.2,288.9 L678.2,288.9 L678.2,290.2 L679.2,290.2 L679.2,292.2 L680.2,292.2 L680.2,293.0 L681.2,293.0 L681.2,295.0 L682.2,295.0 L682.2,293.9 L683.2,293.9 L683.2,293.1 L684.2,293.1 L684.2,291.6 L685.2,291.6 L685.2,291.8 L686.2,291.8 L686.2,291.6 L687.2,291.6 L687.2,292.2 L688.2,292.2 L688.2,292.5 L689.2,292.5 L689.2,293.6 L690.2,293.6 L690.2,294.1 L691.2,294.1 L691.2,293.2 L692.2,293.2 L692.2,293.4 L693.2,293.4 L693.2,294.3 L694.2,294.3 L694.2,295.5 L695.2,295.5 L695.2,294.6 L696.2,294.6 L696.2,295.4 L697.2,295.4 L697.2,296.4 L698.2,296.4 L698.2,294.6 L699.2,294.6 L699.2,294.0 L700.2,294.0 L700.2,294.5 L701.2,294.5 L701.2,293.3 L702.2,293.3 L702.2,291.6 L703.2,291.6 L703.2,289.8 L704.2,289.8 L704.2,291.7 L705.2,291.7 L705.2,290.8 L706.2,290.8 L706.2,290.9 L707.2,290.9 L707.2,291.1 L708.2,291.1 L708.2,290.5 L709.2,290.5 L709.2,288.7 L710.2,288.7 L710.2,287.4 L711.2,287.4 L711.2,287.3 L712.2,287.3 L712.2,287.6 L713.2,287.6 L713.2,287.1 L714.2,287.1 L714.2,285.5 L715.2,285.5 L715.2,285.5 L716.2,285.5 L716.2,288.1 L717.2,288.1 L717.2,289.2 L718.2,289.2 L718.2,289.6 L719.2,289.6 L719.2,292.5 L720.2,292.5 L720.2,292.8 L721.2,292.8 L721.2,292.6 L722.2,292.6 L722.2,292.9 L723.2,292.9 L723.2,292.8 L724.2,292.8 L724.2,290.5 L725.2,290.5 L725.2,290.5 L726.2,290.5 L726.2,287.4 L727.2,287.4 L727.2,287.2 L728.2,287.2 L728.2,288.0 L729.2,288.0 L729.2,286.3 L730.2,286.3 L730.2,285.6 L731.2,285.6 L731.2,282.9 L732.2,282.9 L732.2,283.2 L733.2,283.2 L733.2,282.5 L734.2,282.5 L734.2,280.3 L735.2,280.3 L735.2,281.0 L736.2,281.0 L736.2,279.6 L737.2,279.6 L737.2,280.9 L738.2,280.9 L738.2,278.0 L739.2,278.0 L739.2,275.5 L740.2,275.5 L740.2,270.1 L741.2,270.1 L741.2,266.2 L742.2,266.2 L742.2,265.3 L743.2,265.3 L743.2,258.2 L744.2,258.2 L744.2,254.7 L745.2,254.7 L745.2,251.5 L746.2,251.5 L746.2,249.8 L747.2,249.8 L747.2,249.2 L748.2,249.2 L748.2,246.8 L749.2,246.8 L749.2,246.4 L750.2,246.4 L750.2,242.4 L751.2,242.4 L751.2,243.7 L752.2,243.7 L752.2,249.5 L753.2,249.5 L753.2,249.3 L754.2,249.3 L754.2,253.3 L755.2,253.3 L755.2,253.5 L756.2,253.5 L756.2,254.5 L757.2,254.5 L757.2,257.2 L758.2,257.2 L758.2,259.3 L759.2,259.3 L759.2,266.3 L760.2,266.3 L760.2,267.7 L761.2,267.7 L761.2,269.6 L762.2,269.6 L762.2,273.1 L763.2,273.1 L763.2,275.1 L764.2,275.1 L764.2,275.1 L765.2,275.1 L765.2,280.6 L766.2,280.6 L766.2,280.6 L767.2,280.6 L767.2,283.7 L768.2,283.7 L768.2,283.0 L769.2,283.0 L769.2,285.1 L770.2,285.1 L770.2,285.3 L771.2,285.3 L771.2,286.2 L772.2,286.2 L772.2,288.9 L773.2,288.9 L773.2,286.9 L774.2,286.9 L774.2,283.1 L775.2,283.1 L775.2,283.6 L776.2,283.6 L776.2,281.5 L777.2,281.5 L777.2,277.3 L778.2,277.3 L778.2,276.9 L779.2,276.9 L779.2,277.0 L780.2,277.0 L780.2,273.7 L781.2,273.7 L781.2,275.0 L782.2,275.0 L782.2,270.4 L783.2,270.4 L783.2,270.2 L784.2,270.2 L784.2,270.8 L785.2,270.8 L785.2,266.7 L786.2,266.7 L786.2,265.1 L787.2,265.1 L787.2,266.0 L788.2,266.0 L788.2,262.0 L789.2,262.0 L789.2,261.6 L790.2,261.6 L790.2,256.8 L791.2,256.8 L791.2,254.5 L792.2,254.5 L792.2,253.4 L793.2,253.4 L793.2,250.5 L794.2,250.5 L794.2,252.2 L795.2,252.2 L795.2,244.3 L796.2,244.3 L796.2,241.1 L797.2,241.1 L797.2,234.4 L798.2,234.4 L798.2,221.0 L799.2,221.0 L799.2,218.4 L800.2,218.4 L800.2,216.6 L801.2,216.6 L801.2,213.1 L802.2,213.1 L802.2,211.5 L803.2,211.5 L803.2,213.2 L804.2,213.2 L804.2,210.7 L805.2,210.7 L805.2,210.3 L806.2,210.3 L806.2,210.3 L807.2,210.3 L807.2,211.3 L808.2,211.3 L808.2,212.9 L809.2,212.9 L809.2,213.8 L810.2,213.8 L810.2,218.8 L811.2,218.8 L811.2,220.8 L812.2,220.8 L812.2,223.9 L813.2,223.9 L813.2,231.7 L814.2,231.7 L814.2,234.5 L815.2,234.5 L815.2,244.4 L816.0,244.4 L816.0,307.7 Z M837.2,307.7 L837.2,233.4 L838.2,233.4 L838.2,215.2 L839.2,215.2 L839.2,203.0 L840.2,203.0 L840.2,196.3 L841.2,196.3 L841.2,187.4 L842.2,187.4 L842.2,177.7 L843.2,177.7 L843.2,177.4 L844.2,177.4 L844.2,177.9 L845.2,177.9 L845.2,172.7 L846.2,172.7 L846.2,172.6 L847.2,172.6 L847.2,171.8 L848.2,171.8 L848.2,181.5 L849.2,181.5 L849.2,182.5 L850.2,182.5 L850.2,182.5 L851.2,182.5 L851.2,184.9 L852.2,184.9 L852.2,185.7 L853.2,185.7 L853.2,191.2 L854.2,191.2 L854.2,186.6 L855.2,186.6 L855.2,183.8 L856.2,183.8 L856.2,176.5 L857.2,176.5 L857.2,175.4 L858.2,175.4 L858.2,176.3 L859.2,176.3 L859.2,179.6 L860.2,179.6 L860.2,179.1 L861.2,179.1 L861.2,184.4 L862.2,184.4 L862.2,184.0 L863.2,184.0 L863.2,189.2 L864.2,189.2 L864.2,191.4 L865.2,191.4 L865.2,190.1 L866.2,190.1 L866.2,190.8 L867.2,190.8 L867.2,185.5 L868.2,185.5 L868.2,183.6 L869.2,183.6 L869.2,180.0 L870.2,180.0 L870.2,175.7 L871.2,175.7 L871.2,174.9 L872.2,174.9 L872.2,172.8 L873.2,172.8 L873.2,172.5 L874.2,172.5 L874.2,175.9 L875.2,175.9 L875.2,175.7 L876.2,175.7 L876.2,180.1 L877.2,180.1 L877.2,180.1 L878.2,180.1 L878.2,187.1 L879.2,187.1 L879.2,190.7 L880.2,190.7 L880.2,199.1 L881.2,199.1 L881.2,217.0 L882.2,217.0 L882.2,232.4 L882.8,232.4 L882.8,307.7 Z M884.0,307.7 L884.0,276.5 L885.0,276.5 L885.0,251.1 L886.0,251.1 L886.0,244.0 L887.0,244.0 L887.0,240.3 L888.0,240.3 L888.0,231.4 L889.0,231.4 L889.0,225.4 L890.0,225.4 L890.0,221.2 L891.0,221.2 L891.0,213.9 L892.0,213.9 L892.0,207.7 L893.0,207.7 L893.0,201.0 L894.0,201.0 L894.0,190.7 L895.0,190.7 L895.0,185.4 L896.0,185.4 L896.0,178.1 L897.0,178.1 L897.0,175.4 L898.0,175.4 L898.0,169.3 L899.0,169.3 L899.0,161.8 L900.0,161.8 L900.0,158.0 L901.0,158.0 L901.0,155.2 L902.0,155.2 L902.0,151.3 L903.0,151.3 L903.0,141.8 L904.0,141.8 L904.0,130.1 L905.0,130.1 L905.0,115.2 L906.0,115.2 L906.0,107.6 L907.0,107.6 L907.0,91.1 L908.0,91.1 L908.0,71.1 L909.0,71.1 L909.0,75.1 L910.0,75.1 L910.0,75.6 L911.0,75.6 L911.0,78.6 L912.0,78.6 L912.0,79.8 L913.0,79.8 L913.0,74.5 L914.0,74.5 L914.0,75.6 L915.0,75.6 L915.0,89.9 L916.0,89.9 L916.0,105.5 L917.0,105.5 L917.0,118.9 L918.0,118.9 L918.0,129.1 L919.0,129.1 L919.0,140.3 L920.0,140.3 L920.0,149.4 L921.0,149.4 L921.0,159.1 L922.0,159.1 L922.0,175.0 L923.0,175.0 L923.0,188.4 L924.0,188.4 L924.0,203.9 L925.0,203.9 L925.0,221.3 L926.0,221.3 L926.0,232.9 L927.0,232.9 L927.0,242.0 L928.0,242.0 L928.0,241.3 L929.0,241.3 L929.0,240.6 L930.0,240.6 L930.0,245.8 L931.0,245.8 L931.0,246.1 L932.0,246.1 L932.0,244.0 L933.0,244.0 L933.0,243.1 L934.0,243.1 L934.0,247.5 L935.0,247.5 L935.0,246.6 L936.0,246.6 L936.0,244.1 L937.0,244.1 L937.0,244.9 L938.0,244.9 L938.0,244.1 L939.0,244.1 L939.0,247.3 L940.0,247.3 L940.0,244.2 L941.0,244.2 L941.0,247.6 L942.0,247.6 L942.0,246.9 L943.0,246.9 L943.0,245.4 L944.0,245.4 L944.0,250.2 L945.0,250.2 L945.0,250.4 L946.0,250.4 L946.0,253.9 L947.0,253.9 L947.0,255.8 L948.0,255.8 L948.0,254.6 L949.0,254.6 L949.0,255.1 L950.0,255.1 L950.0,262.6 L951.0,262.6 L951.0,265.0 L952.0,265.0 L952.0,275.2 L953.0,275.2 L953.0,307.7 Z M1010.3,307.7 L1010.3,278.1 L1011.3,278.1 L1011.3,277.9 L1012.3,277.9 L1012.3,278.1 L1013.3,278.1 L1013.3,277.7 L1014.3,277.7 L1014.3,277.9 L1015.3,277.9 L1015.3,277.1 L1016.3,277.1 L1016.3,281.2 L1017.3,281.2 L1017.3,281.0 L1018.3,281.0 L1018.3,282.5 L1019.3,282.5 L1019.3,285.2 L1020.3,285.2 L1020.3,283.2 L1021.3,283.2 L1021.3,286.5 L1022.3,286.5 L1022.3,284.9 L1023.3,284.9 L1023.3,288.0 L1024.3,288.0 L1024.3,289.3 L1025.3,289.3 L1025.3,288.5 L1026.3,288.5 L1026.3,290.3 L1027.3,290.3 L1027.3,292.3 L1028.3,292.3 L1028.3,292.3 L1029.3,292.3 L1029.3,293.0 L1030.3,293.0 L1030.3,293.3 L1031.3,293.3 L1031.3,293.7 L1032.3,293.7 L1032.3,295.1 L1033.3,295.1 L1033.3,296.0 L1034.3,296.0 L1034.3,296.4 L1035.3,296.4 L1035.3,297.4 L1036.3,297.4 L1036.3,297.9 L1037.3,297.9 L1037.3,299.5 L1038.3,299.5 L1038.3,300.0 L1039.3,300.0 L1039.3,299.8 L1040.3,299.8 L1040.3,300.1 L1041.3,300.1 L1041.3,300.7 L1042.3,300.7 L1042.3,300.9 L1043.3,300.9 L1043.3,301.7 L1044.3,301.7 L1044.3,301.3 L1045.3,301.3 L1045.3,301.6 L1046.3,301.6 L1046.3,302.4 L1047.3,302.4 L1047.3,302.0 L1048.3,302.0 L1048.3,302.6 L1049.3,302.6 L1049.3,302.7 L1050.3,302.7 L1050.3,303.3 L1051.3,303.3 L1051.3,303.0 L1052.3,303.0 L1052.3,303.0 L1053.3,303.0 L1053.3,302.5 L1054.3,302.5 L1054.3,302.7 L1055.3,302.7 L1055.3,302.6 L1056.3,302.6 L1056.3,302.3 L1057.3,302.3 L1057.3,302.5 L1058.3,302.5 L1058.3,302.4 L1059.3,302.4 L1059.3,301.7 L1060.3,301.7 L1060.3,301.8 L1061.3,301.8 L1061.3,302.1 L1062.3,302.1 L1062.3,302.2 L1063.3,302.2 L1063.3,302.3 L1064.3,302.3 L1064.3,302.7 L1065.3,302.7 L1065.3,302.9 L1065.5,302.9 L1065.5,307.7 Z " fill="#00ff00"/>
<path d="M679.1,307.7 L679.1,302.5 L680.1,302.5 L680.1,299.7 L681.1,299.7 L681.1,298.6 L682.1,298.6 L682.1,298.2 L683.1,298.2 L683.1,297.8 L684.1,297.8 L684.1,297.0 L685.1,297.0 L685.1,296.0 L686.1,296.0 L686.1,295.5 L687.1,295.5 L687.1,295.4 L688.1,295.4 L688.1,297.3 L689.1,297.3 L689.1,297.0 L690.1,297.0 L690.1,295.9 L691.1,295.9 L691.1,297.2 L692.1,297.2 L692.1,297.7 L693.1,297.7 L693.1,297.1 L694.1,297.1 L694.1,296.5 L695.1,296.5 L695.1,297.3 L696.1,297.3 L696.1,297.5 L697.1,297.5 L697.1,297.3 L698.1,297.3 L698.1,298.1 L699.1,298.1 L699.1,297.5 L700.1,297.5 L700.1,299.1 L701.1,299.1 L701.1,298.9 L702.1,298.9 L702.1,299.3 L703.1,299.3 L703.1,301.1 L704.1,301.1 L704.1,302.2 L705.1,302.2 L705.1,303.8 L705.8,303.8 L705.8,307.7 Z M706.7,307.7 L706.7,300.4 L707.7,300.4 L707.7,300.1 L708.7,300.1 L708.7,299.8 L709.7,299.8 L709.7,300.5 L710.7,300.5 L710.7,300.5 L711.7,300.5 L711.7,299.6 L712.7,299.6 L712.7,299.4 L713.7,299.4 L713.7,300.1 L714.7,300.1 L714.7,300.8 L715.7,300.8 L715.7,301.3 L716.7,301.3 L716.7,301.0 L717.7,301.0 L717.7,302.8 L718.7,302.8 L718.7,304.6 L719.1,304.6 L719.1,307.7 Z M720.0,307.7 L720.0,298.8 L721.0,298.8 L721.0,295.0 L722.0,295.0 L722.0,291.8 L723.0,291.8 L723.0,292.5 L724.0,292.5 L724.0,290.3 L725.0,290.3 L725.0,289.5 L726.0,289.5 L726.0,289.1 L727.0,289.1 L727.0,287.6 L728.0,287.6 L728.0,288.2 L729.0,288.2 L729.0,285.2 L730.0,285.2 L730.0,283.5 L731.0,283.5 L731.0,284.5 L732.0,284.5 L732.0,283.9 L733.0,283.9 L733.0,283.7 L734.0,283.7 L734.0,282.7 L735.0,282.7 L735.0,283.1 L736.0,283.1 L736.0,282.9 L737.0,282.9 L737.0,280.4 L738.0,280.4 L738.0,280.4 L739.0,280.4 L739.0,279.8 L740.0,279.8 L740.0,281.4 L741.0,281.4 L741.0,283.5 L742.0,283.5 L742.0,279.5 L743.0,279.5 L743.0,279.9 L744.0,279.9 L744.0,275.0 L745.0,275.0 L745.0,273.2 L746.0,273.2 L746.0,271.4 L747.0,271.4 L747.0,262.5 L748.0,262.5 L748.0,257.7 L749.0,257.7 L749.0,256.3 L750.0,256.3 L750.0,252.5 L751.0,252.5 L751.0,252.7 L752.0,252.7 L752.0,246.6 L753.0,246.6 L753.0,248.8 L754.0,248.8 L754.0,247.2 L755.0,247.2 L755.0,245.1 L756.0,245.1 L756.0,241.5 L757.0,241.5 L757.0,240.7 L758.0,240.7 L758.0,245.3 L759.0,245.3 L759.0,247.6 L760.0,247.6 L760.0,250.2 L761.0,250.2 L761.0,253.8 L762.0,253.8 L762.0,258.3 L763.0,258.3 L763.0,262.6 L764.0,262.6 L764.0,263.6 L765.0,263.6 L765.0,264.1 L766.0,264.1 L766.0,260.6 L767.0,260.6 L767.0,261.4 L768.0,261.4 L768.0,262.3 L769.0,262.3 L769.0,264.4 L770.0,264.4 L770.0,266.1 L771.0,266.1 L771.0,268.1 L772.0,268.1 L772.0,270.3 L773.0,270.3 L773.0,278.6 L774.0,278.6 L774.0,287.6 L775.0,287.6 L775.0,292.0 L776.0,292.0 L776.0,287.4 L777.0,287.4 L777.0,280.4 L778.0,280.4 L778.0,279.8 L779.0,279.8 L779.0,278.5 L780.0,278.5 L780.0,275.4 L781.0,275.4 L781.0,275.0 L782.0,275.0 L782.0,269.9 L783.0,269.9 L783.0,272.1 L784.0,272.1 L784.0,271.9 L785.0,271.9 L785.0,270.9 L786.0,270.9 L786.0,272.7 L787.0,272.7 L787.0,275.1 L788.0,275.1 L788.0,275.6 L789.0,275.6 L789.0,281.0 L790.0,281.0 L790.0,283.7 L791.0,283.7 L791.0,287.7 L791.3,287.7 L791.3,307.7 Z M804.0,307.7 L804.0,244.1 L805.0,244.1 L805.0,231.5 L806.0,231.5 L806.0,219.8 L807.0,219.8 L807.0,221.3 L808.0,221.3 L808.0,219.1 L809.0,219.1 L809.0,216.3 L810.0,216.3 L810.0,218.9 L811.0,218.9 L811.0,221.0 L812.0,221.0 L812.0,227.0 L813.0,227.0 L813.0,229.5 L814.0,229.5 L814.0,232.6 L815.0,232.6 L815.0,235.3 L816.0,235.3 L816.0,237.0 L817.0,237.0 L817.0,237.8 L818.0,237.8 L818.0,240.3 L819.0,240.3 L819.0,245.9 L820.0,245.9 L820.0,246.3 L821.0,246.3 L821.0,252.2 L822.0,252.2 L822.0,266.3 L823.0,266.3 L823.0,307.7 Z M841.0,307.7 L841.0,231.0 L842.0,231.0 L842.0,224.5 L843.0,224.5 L843.0,221.7 L844.0,221.7 L844.0,219.3 L845.0,219.3 L845.0,219.4 L846.0,219.4 L846.0,218.8 L847.0,218.8 L847.0,216.5 L848.0,216.5 L848.0,218.9 L849.0,218.9 L849.0,218.6 L850.0,218.6 L850.0,222.6 L851.0,222.6 L851.0,223.7 L852.0,223.7 L852.0,217.2 L853.0,217.2 L853.0,214.8 L854.0,214.8 L854.0,209.1 L855.0,209.1 L855.0,207.7 L856.0,207.7 L856.0,206.8 L857.0,206.8 L857.0,202.3 L858.0,202.3 L858.0,200.1 L859.0,200.1 L859.0,200.1 L860.0,200.1 L860.0,198.8 L861.0,198.8 L861.0,205.2 L862.0,205.2 L862.0,205.9 L863.0,205.9 L863.0,205.4 L864.0,205.4 L864.0,211.8 L865.0,211.8 L865.0,212.3 L866.0,212.3 L866.0,214.2 L867.0,214.2 L867.0,221.1 L868.0,221.1 L868.0,222.2 L869.0,222.2 L869.0,224.2 L870.0,224.2 L870.0,220.5 L871.0,220.5 L871.0,223.2 L872.0,223.2 L872.0,219.1 L873.0,219.1 L873.0,219.5 L874.0,219.5 L874.0,219.7 L875.0,219.7 L875.0,217.4 L876.0,217.4 L876.0,220.2 L877.0,220.2 L877.0,219.1 L878.0,219.1 L878.0,220.6 L879.0,220.6 L879.0,223.6 L880.0,223.6 L880.0,223.3 L881.0,223.3 L881.0,230.3 L882.0,230.3 L882.0,231.9 L883.0,231.9 L883.0,234.7 L883.9,234.7 L883.9,307.7 Z M884.7,307.7 L884.7,232.4 L885.7,232.4 L885.7,226.9 L886.7,226.9 L886.7,219.3 L887.7,219.3 L887.7,208.4 L888.7,208.4 L888.7,204.3 L889.7,204.3 L889.7,196.3 L890.7,196.3 L890.7,192.4 L891.7,192.4 L891.7,186.0 L892.7,186.0 L892.7,183.1 L893.7,183.1 L893.7,179.1 L894.7,179.1 L894.7,179.9 L895.7,179.9 L895.7,181.2 L896.7,181.2 L896.7,177.8 L897.7,177.8 L897.7,170.0 L898.7,170.0 L898.7,159.9 L899.7,159.9 L899.7,157.6 L900.7,157.6 L900.7,150.4 L901.7,150.4 L901.7,148.0 L902.7,148.0 L902.7,145.4 L903.7,145.4 L903.7,138.1 L904.7,138.1 L904.7,138.3 L905.7,138.3 L905.7,132.0 L906.7,132.0 L906.7,119.1 L907.7,119.1 L907.7,108.0 L908.7,108.0 L908.7,106.0 L909.7,106.0 L909.7,109.1 L910.7,109.1 L910.7,107.6 L911.7,107.6 L911.7,98.3 L912.7,98.3 L912.7,94.4 L913.7,94.4 L913.7,98.9 L914.7,98.9 L914.7,110.3 L915.7,110.3 L915.7,115.8 L916.7,115.8 L916.7,126.7 L917.7,126.7 L917.7,134.8 L918.7,134.8 L918.7,146.3 L919.7,146.3 L919.7,154.7 L920.7,154.7 L920.7,163.5 L921.7,163.5 L921.7,180.7 L922.7,180.7 L922.7,193.0 L923.7,193.0 L923.7,205.8 L924.7,205.8 L924.7,218.1 L925.7,218.1 L925.7,227.5 L926.7,227.5 L926.7,232.8 L927.7,232.8 L927.7,249.8 L928.7,249.8 L928.7,262.5 L929.7,262.5 L929.7,268.3 L930.5,268.3 L930.5,307.7 Z M938.1,307.7 L938.1,271.1 L939.1,271.1 L939.1,268.9 L940.1,268.9 L940.1,265.1 L941.1,265.1 L941.1,265.8 L942.1,265.8 L942.1,269.6 L943.1,269.6 L943.1,271.9 L943.8,271.9 L943.8,307.7 Z " fill="#ff0000"/>
<path d="M612.2,307.7 L612.2,262.6 L613.2,262.6 L613.2,262.6 L614.2,262.6 L614.2,260.5 L615.2,260.5 L615.2,263.5 L616.2,263.5 L616.2,261.0 L617.2,261.0 L617.2,263.1 L618.2,263.1 L618.2,261.6 L619.2,261.6 L619.2,258.6 L620.2,258.6 L620.2,259.9 L621.2,259.9 L621.2,260.6 L622.2,260.6 L622.2,265.3 L623.2,265.3 L623.2,265.0 L624.2,265.0 L624.2,263.9 L625.2,263.9 L625.2,267.5 L626.2,267.5 L626.2,271.0 L627.2,271.0 L627.2,273.0 L628.2,273.0 L628.2,275.1 L629.2,275.1 L629.2,275.6 L630.2,275.6 L630.2,276.6 L631.2,276.6 L631.2,275.7 L632.2,275.7 L632.2,279.2 L633.2,279.2 L633.2,278.8 L634.2,278.8 L634.2,278.1 L635.2,278.1 L635.2,280.8 L636.2,280.8 L636.2,283.8 L637.2,283.8 L637.2,280.6 L638.2,280.6 L638.2,281.8 L639.2,281.8 L639.2,284.6 L640.2,284.6 L640.2,283.4 L641.2,283.4 L641.2,283.7 L642.2,283.7 L642.2,284.9 L643.2,284.9 L643.2,284.3 L644.2,284.3 L644.2,285.8 L645.2,285.8 L645.2,285.9 L646.2,285.9 L646.2,287.7 L647.2,287.7 L647.2,288.1 L648.2,288.1 L648.2,285.2 L649.2,285.2 L649.2,287.2 L650.2,287.2 L650.2,288.2 L651.2,288.2 L651.2,288.8 L652.2,288.8 L652.2,288.6 L653.2,288.6 L653.2,288.2 L654.2,288.2 L654.2,288.3 L655.2,288.3 L655.2,287.6 L656.2,287.6 L656.2,287.4 L657.2,287.4 L657.2,289.2 L658.2,289.2 L658.2,289.5 L659.2,289.5 L659.2,290.0 L660.2,290.0 L660.2,289.5 L661.2,289.5 L661.2,288.7 L662.2,288.7 L662.2,290.4 L663.2,290.4 L663.2,290.6 L664.2,290.6 L664.2,290.3 L665.2,290.3 L665.2,291.4 L666.2,291.4 L666.2,291.3 L667.2,291.3 L667.2,292.5 L668.2,292.5 L668.2,293.1 L669.2,293.1 L669.2,293.5 L670.2,293.5 L670.2,295.3 L671.2,295.3 L671.2,296.5 L672.2,296.5 L672.2,298.7 L673.2,298.7 L673.2,299.1 L674.2,299.1 L674.2,300.1 L675.2,300.1 L675.2,301.1 L676.2,301.1 L676.2,303.0 L677.2,303.0 L677.2,304.8 L678.2,304.8 L678.2,304.4 L679.2,304.4 L679.2,304.1 L680.2,304.1 L680.2,304.4 L681.2,304.4 L681.2,303.9 L682.2,303.9 L682.2,303.6 L683.2,303.6 L683.2,303.5 L684.2,303.5 L684.2,302.8 L685.2,302.8 L685.2,301.7 L686.2,301.7 L686.2,301.1 L687.2,301.1 L687.2,301.5 L688.2,301.5 L688.2,301.7 L689.2,301.7 L689.2,302.3 L690.2,302.3 L690.2,302.4 L691.2,302.4 L691.2,302.9 L692.2,302.9 L692.2,302.7 L693.2,302.7 L693.2,303.4 L694.2,303.4 L694.2,303.3 L695.2,303.3 L695.2,303.0 L696.2,303.0 L696.2,303.1 L697.2,303.1 L697.2,303.4 L698.2,303.4 L698.2,303.7 L699.2,303.7 L699.2,303.2 L700.2,303.2 L700.2,303.5 L701.2,303.5 L701.2,303.3 L702.2,303.3 L702.2,303.6 L703.2,303.6 L703.2,302.9 L704.2,302.9 L704.2,303.1 L705.2,303.1 L705.2,303.3 L706.2,303.3 L706.2,302.7 L707.2,302.7 L707.2,302.6 L708.2,302.6 L708.2,302.3 L709.2,302.3 L709.2,302.3 L710.2,302.3 L710.2,302.3 L711.2,302.3 L711.2,302.6 L712.2,302.6 L712.2,302.6 L713.2,302.6 L713.2,303.2 L714.2,303.2 L714.2,303.5 L715.2,303.5 L715.2,304.2 L716.2,304.2 L716.2,304.8 L717.2,304.8 L717.2,304.2 L718.2,304.2 L718.2,302.9 L719.2,302.9 L719.2,302.4 L720.2,302.4 L720.2,301.8 L721.2,301.8 L721.2,300.5 L722.2,300.5 L722.2,298.9 L723.2,298.9 L723.2,299.0 L724.2,299.0 L724.2,298.2 L725.2,298.2 L725.2,296.4 L726.2,296.4 L726.2,295.1 L727.2,295.1 L727.2,294.2 L728.2,294.2 L728.2,293.8 L729.2,293.8 L729.2,293.5 L730.2,293.5 L730.2,291.8 L731.2,291.8 L731.2,291.5 L732.2,291.5 L732.2,288.3 L733.2,288.3 L733.2,287.4 L734.2,287.4 L734.2,287.7 L735.2,287.7 L735.2,286.2 L736.2,286.2 L736.2,285.4 L737.2,285.4 L737.2,286.8 L738.2,286.8 L738.2,286.1 L739.2,286.1 L739.2,285.6 L740.2,285.6 L740.2,287.3 L741.2,287.3 L741.2,286.6 L742.2,286.6 L742.2,288.9 L743.2,288.9 L743.2,287.3 L744.2,287.3 L744.2,284.8 L745.2,284.8 L745.2,282.1 L746.2,282.1 L746.2,277.5 L747.2,277.5 L747.2,275.3 L748.2,275.3 L748.2,269.7 L749.2,269.7 L749.2,273.1 L750.2,273.1 L750.2,271.0 L751.2,271.0 L751.2,272.8 L752.2,272.8 L752.2,267.8 L753.2,267.8 L753.2,270.2 L754.2,270.2 L754.2,270.4 L755.2,270.4 L755.2,268.5 L756.2,268.5 L756.2,267.8 L757.2,267.8 L757.2,268.6 L758.2,268.6 L758.2,269.1 L759.2,269.1 L759.2,273.2 L760.2,273.2 L760.2,272.5 L761.2,272.5 L761.2,278.7 L762.2,278.7 L762.2,279.3 L763.2,279.3 L763.2,282.2 L764.2,282.2 L764.2,284.9 L765.2,284.9 L765.2,286.6 L766.2,286.6 L766.2,288.1 L767.2,288.1 L767.2,289.1 L768.2,289.1 L768.2,289.6 L769.2,289.6 L769.2,291.9 L770.2,291.9 L770.2,291.0 L771.2,291.0 L771.2,290.8 L772.2,290.8 L772.2,289.6 L773.2,289.6 L773.2,288.4 L774.2,288.4 L774.2,286.9 L775.2,286.9 L775.2,288.8 L776.2,288.8 L776.2,289.9 L777.2,289.9 L777.2,288.7 L778.2,288.7 L778.2,287.0 L779.2,287.0 L779.2,286.6 L780.2,286.6 L780.2,286.9 L781.2,286.9 L781.2,282.6 L782.2,282.6 L782.2,280.8 L783.2,280.8 L783.2,281.0 L784.2,281.0 L784.2,279.7 L785.2,279.7 L785.2,278.1 L786.2,278.1 L786.2,273.7 L787.2,273.7 L787.2,274.5 L788.2,274.5 L788.2,268.4 L789.2,268.4 L789.2,269.3 L790.2,269.3 L790.2,264.3 L791.2,264.3 L791.2,262.3 L792.2,262.3 L792.2,261.1 L793.2,261.1 L793.2,259.1 L794.2,259.1 L794.2,259.6 L795.2,259.6 L795.2,257.5 L796.2,257.5 L796.2,253.3 L797.2,253.3 L797.2,254.8 L798.2,254.8 L798.2,249.6 L799.2,249.6 L799.2,246.1 L800.2,246.1 L800.2,244.2 L801.2,244.2 L801.2,245.1 L802.2,245.1 L802.2,244.2 L803.2,244.2 L803.2,238.6 L804.2,238.6 L804.2,236.6 L805.2,236.6 L805.2,240.6 L806.2,240.6 L806.2,239.3 L807.2,239.3 L807.2,244.3 L808.2,244.3 L808.2,243.2 L809.2,243.2 L809.2,245.2 L810.2,245.2 L810.2,245.1 L811.2,245.1 L811.2,248.5 L812.2,248.5 L812.2,247.8 L813.2,247.8 L813.2,248.2 L814.2,248.2 L814.2,252.0 L815.2,252.0 L815.2,249.1 L816.2,249.1 L816.2,253.0 L817.2,253.0 L817.2,249.1 L818.2,249.1 L818.2,251.5 L819.2,251.5 L819.2,249.8 L820.2,249.8 L820.2,251.5 L821.2,251.5 L821.2,246.8 L822.2,246.8 L822.2,248.6 L823.2,248.6 L823.2,247.2 L824.2,247.2 L824.2,249.1 L825.2,249.1 L825.2,248.7 L826.2,248.7 L826.2,248.1 L827.2,248.1 L827.2,249.1 L828.2,249.1 L828.2,253.8 L829.2,253.8 L829.2,260.9 L830.2,260.9 L830.2,268.7 L831.2,268.7 L831.2,262.0 L832.2,262.0 L832.2,256.2 L833.2,256.2 L833.2,257.0 L834.2,257.0 L834.2,256.0 L835.2,256.0 L835.2,253.9 L836.2,253.9 L836.2,257.0 L837.2,257.0 L837.2,252.7 L838.2,252.7 L838.2,254.5 L839.2,254.5 L839.2,254.3 L840.2,254.3 L840.2,259.8 L841.2,259.8 L841.2,261.1 L842.2,261.1 L842.2,257.6 L843.2,257.6 L843.2,259.5 L844.2,259.5 L844.2,259.4 L845.2,259.4 L845.2,256.2 L846.2,256.2 L846.2,255.9 L847.2,255.9 L847.2,256.2 L848.2,256.2 L848.2,257.5 L849.2,257.5 L849.2,252.8 L850.2,252.8 L850.2,254.4 L851.2,254.4 L851.2,253.0 L852.2,253.0 L852.2,251.3 L853.2,251.3 L853.2,250.9 L854.2,250.9 L854.2,251.4 L855.2,251.4 L855.2,247.1 L856.2,247.1 L856.2,249.4 L857.2,249.4 L857.2,245.8 L858.2,245.8 L858.2,246.9 L859.2,246.9 L859.2,246.3 L860.2,246.3 L860.2,241.9 L861.2,241.9 L861.2,243.8 L862.2,243.8 L862.2,240.4 L863.2,240.4 L863.2,232.9 L864.2,232.9 L864.2,227.6 L865.2,227.6 L865.2,224.9 L866.2,224.9 L866.2,227.6 L867.2,227.6 L867.2,221.1 L868.2,221.1 L868.2,223.9 L869.2,223.9 L869.2,218.4 L870.2,218.4 L870.2,217.2 L871.2,217.2 L871.2,209.0 L872.2,209.0 L872.2,208.6 L873.2,208.6 L873.2,212.0 L874.2,212.0 L874.2,210.0 L875.2,210.0 L875.2,212.3 L876.2,212.3 L876.2,216.3 L877.2,216.3 L877.2,219.9 L878.2,219.9 L878.2,225.2 L879.2,225.2 L879.2,230.4 L880.2,230.4 L880.2,231.6 L881.2,231.6 L881.2,230.5 L882.2,230.5 L882.2,227.5 L883.2,227.5 L883.2,221.6 L884.2,221.6 L884.2,213.0 L885.2,213.0 L885.2,210.0 L886.2,210.0 L886.2,203.2 L887.2,203.2 L887.2,200.0 L888.2,200.0 L888.2,194.8 L889.2,194.8 L889.2,190.7 L890.2,190.7 L890.2,192.0 L891.2,192.0 L891.2,185.0 L892.2,185.0 L892.2,187.4 L893.2,187.4 L893.2,185.4 L894.2,185.4 L894.2,189.2 L895.2,189.2 L895.2,189.5 L896.2,189.5 L896.2,195.0 L897.2,195.0 L897.2,197.5 L898.2,197.5 L898.2,202.0 L899.2,202.0 L899.2,201.3 L900.2,201.3 L900.2,202.3 L901.2,202.3 L901.2,198.5 L902.2,198.5 L902.2,193.9 L903.2,193.9 L903.2,192.6 L904.2,192.6 L904.2,190.8 L905.2,190.8 L905.2,190.4 L906.2,190.4 L906.2,185.4 L907.2,185.4 L907.2,182.7 L908.2,182.7 L908.2,184.5 L909.2,184.5 L909.2,182.1 L910.2,182.1 L910.2,176.9 L911.2,176.9 L911.2,169.6 L912.2,169.6 L912.2,164.1 L913.2,164.1 L913.2,159.6 L914.2,159.6 L914.2,158.7 L915.2,158.7 L915.2,161.9 L916.2,161.9 L916.2,167.6 L917.2,167.6 L917.2,170.8 L918.2,170.8 L918.2,176.8 L919.2,176.8 L919.2,181.2 L920.2,181.2 L920.2,185.6 L921.2,185.6 L921.2,197.0 L922.2,197.0 L922.2,204.8 L923.2,204.8 L923.2,214.5 L924.2,214.5 L924.2,227.2 L925.2,227.2 L925.2,233.8 L926.2,233.8 L926.2,239.6 L927.2,239.6 L927.2,249.3 L928.2,249.3 L928.2,260.5 L929.2,260.5 L929.2,260.6 L930.2,260.6 L930.2,258.7 L931.2,258.7 L931.2,257.7 L932.2,257.7 L932.2,260.3 L933.2,260.3 L933.2,258.2 L934.2,258.2 L934.2,259.2 L935.2,259.2 L935.2,260.3 L936.2,260.3 L936.2,260.0 L937.2,260.0 L937.2,264.9 L938.2,264.9 L938.2,260.6 L939.2,260.6 L939.2,264.3 L940.2,264.3 L940.2,266.5 L941.2,266.5 L941.2,263.9 L942.2,263.9 L942.2,265.4 L943.2,265.4 L943.2,263.7 L944.2,263.7 L944.2,262.6 L945.2,262.6 L945.2,261.8 L946.2,261.8 L946.2,260.9 L947.2,260.9 L947.2,264.1 L948.2,264.1 L948.2,263.3 L949.2,263.3 L949.2,263.8 L950.2,263.8 L950.2,261.7 L951.2,261.7 L951.2,267.9 L952.2,267.9 L952.2,269.1 L953.2,269.1 L953.2,273.7 L954.2,273.7 L954.2,275.2 L955.2,275.2 L955.2,276.1 L956.2,276.1 L956.2,281.0 L957.2,281.0 L957.2,278.5 L958.2,278.5 L958.2,283.5 L959.2,283.5 L959.2,285.7 L960.2,285.7 L960.2,286.3 L960.9,286.3 L960.9,307.7 Z M968.5,307.7 L968.5,282.5 L969.5,282.5 L969.5,282.5 L970.5,282.5 L970.5,277.1 L971.5,277.1 L971.5,277.5 L972.5,277.5 L972.5,277.5 L973.5,277.5 L973.5,275.2 L974.5,275.2 L974.5,276.4 L975.5,276.4 L975.5,274.5 L976.5,274.5 L976.5,275.3 L977.5,275.3 L977.5,276.1 L978.5,276.1 L978.5,276.7 L979.5,276.7 L979.5,275.3 L980.5,275.3 L980.5,277.1 L981.5,277.1 L981.5,276.5 L982.5,276.5 L982.5,273.9 L983.5,273.9 L983.5,274.8 L984.5,274.8 L984.5,272.1 L985.5,272.1 L985.5,275.2 L986.5,275.2 L986.5,276.6 L987.5,276.6 L987.5,281.4 L987.5,281.4 L987.5,307.7 Z M1030.4,307.7 L1030.4,305.0 L1031.4,305.0 L1031.4,304.6 L1032.4,304.6 L1032.4,303.9 L1033.4,303.9 L1033.4,303.4 L1034.4,303.4 L1034.4,303.5 L1035.4,303.5 L1035.4,302.7 L1036.4,302.7 L1036.4,302.3 L1037.4,302.3 L1037.4,301.8 L1038.4,301.8 L1038.4,301.7 L1039.4,301.7 L1039.4,300.6 L1040.4,300.6 L1040.4,300.5 L1041.4,300.5 L1041.4,301.4 L1042.4,301.4 L1042.4,301.1 L1043.4,301.1 L1043.4,301.5 L1044.4,301.5 L1044.4,301.8 L1045.4,301.8 L1045.4,302.0 L1046.4,302.0 L1046.4,302.1 L1047.4,302.1 L1047.4,301.5 L1048.4,301.5 L1048.4,302.0 L1049.4,302.0 L1049.4,302.5 L1050.4,302.5 L1050.4,302.7 L1051.4,302.7 L1051.4,302.2 L1052.4,302.2 L1052.4,302.4 L1053.4,302.4 L1053.4,302.7 L1054.4,302.7 L1054.4,302.7 L1055.4,302.7 L1055.4,303.1 L1056.4,303.1 L1056.4,303.5 L1057.4,303.5 L1057.4,303.4 L1058.4,303.4 L1058.4,303.5 L1059.4,303.5 L1059.4,303.4 L1060.4,303.4 L1060.4,303.7 L1061.4,303.7 L1061.4,304.2 L1062.4,304.2 L1062.4,304.1 L1063.4,304.1 L1063.4,304.1 L1064.4,304.1 L1064.4,304.2 L1065.4,304.2 L1065.4,304.5 L1065.5,304.5 L1065.5,307.7 Z " fill="#0000ff"/>
<path d="M612.2,307.7 L612.2,287.5 L613.2,287.5 L613.2,284.6 L614.2,284.6 L614.2,285.6 L615.2,285.6 L615.2,283.6 L616.2,283.6 L616.2,282.5 L617.2,282.5 L617.2,279.4 L618.2,279.4 L618.2,278.1 L619.2,278.1 L619.2,276.1 L620.2,276.1 L620.2,274.3 L621.2,274.3 L621.2,270.6 L622.2,270.6 L622.2,270.5 L623.2,270.5 L623.2,271.4 L624.2,271.4 L624.2,267.8 L625.2,267.8 L625.2,267.5 L626.2,267.5 L626.2,269.4 L627.2,269.4 L627.2,266.5 L628.2,266.5 L628.2,266.0 L629.2,266.0 L629.2,265.2 L630.2,265.2 L630.2,268.3 L631.2,268.3 L631.2,264.8 L632.2,264.8 L632.2,267.8 L633.2,267.8 L633.2,269.1 L634.2,269.1 L634.2,266.4 L635.2,266.4 L635.2,268.2 L636.2,268.2 L636.2,270.7 L637.2,270.7 L637.2,270.5 L638.2,270.5 L638.2,269.9 L639.2,269.9 L639.2,269.0 L640.2,269.0 L640.2,272.4 L641.2,272.4 L641.2,273.6 L642.2,273.6 L642.2,276.8 L643.2,276.8 L643.2,276.5 L644.2,276.5 L644.2,280.2 L645.2,280.2 L645.2,284.3 L646.2,284.3 L646.2,286.9 L647.2,286.9 L647.2,285.7 L648.2,285.7 L648.2,286.2 L649.2,286.2 L649.2,287.2 L650.2,287.2 L650.2,288.7 L651.2,288.7 L651.2,286.8 L652.2,286.8 L652.2,289.7 L653.2,289.7 L653.2,289.3 L654.2,289.3 L654.2,288.8 L655.2,288.8 L655.2,290.1 L656.2,290.1 L656.2,289.6 L657.2,289.6 L657.2,289.3 L658.2,289.3 L658.2,291.7 L659.2,291.7 L659.2,291.1 L660.2,291.1 L660.2,292.0 L661.2,292.0 L661.2,292.4 L662.2,292.4 L662.2,293.9 L663.2,293.9 L663.2,294.4 L664.2,294.4 L664.2,293.8 L665.2,293.8 L665.2,295.9 L666.2,295.9 L666.2,296.6 L667.2,296.6 L667.2,297.5 L668.2,297.5 L668.2,299.0 L669.2,299.0 L669.2,299.3 L670.2,299.3 L670.2,300.3 L671.2,300.3 L671.2,301.7 L672.2,301.7 L672.2,302.1 L673.2,302.1 L673.2,302.9 L674.2,302.9 L674.2,302.5 L675.2,302.5 L675.2,302.3 L676.2,302.3 L676.2,301.7 L677.2,301.7 L677.2,301.6 L678.2,301.6 L678.2,301.0 L679.2,301.0 L679.2,300.3 L680.2,300.3 L680.2,300.9 L681.2,300.9 L681.2,300.8 L682.2,300.8 L682.2,301.8 L683.2,301.8 L683.2,302.4 L684.2,302.4 L684.2,302.6 L685.2,302.6 L685.2,303.2 L686.2,303.2 L686.2,303.3 L687.2,303.3 L687.2,303.9 L688.2,303.9 L688.2,303.7 L689.2,303.7 L689.2,303.9 L690.2,303.9 L690.2,304.4 L691.2,304.4 L691.2,304.5 L692.2,304.5 L692.2,304.4 L693.2,304.4 L693.2,304.9 L694.2,304.9 L694.2,305.0 L695.2,305.0 L695.2,304.6 L696.2,304.6 L696.2,304.2 L697.2,304.2 L697.2,304.3 L698.2,304.3 L698.2,303.9 L699.2,303.9 L699.2,303.8 L700.2,303.8 L700.2,303.8 L701.2,303.8 L701.2,303.1 L702.2,303.1 L702.2,301.7 L703.2,301.7 L703.2,299.4 L704.2,299.4 L704.2,298.0 L705.2,298.0 L705.2,296.8 L706.2,296.8 L706.2,294.2 L707.2,294.2 L707.2,295.1 L708.2,295.1 L708.2,292.5 L709.2,292.5 L709.2,291.5 L710.2,291.5 L710.2,290.7 L711.2,290.7 L711.2,290.3 L712.2,290.3 L712.2,293.0 L713.2,293.0 L713.2,293.6 L714.2,293.6 L714.2,294.8 L715.2,294.8 L715.2,296.1 L716.2,296.1 L716.2,295.9 L717.2,295.9 L717.2,296.8 L718.2,296.8 L718.2,298.2 L719.2,298.2 L719.2,297.8 L720.2,297.8 L720.2,297.3 L721.2,297.3 L721.2,295.6 L722.2,295.6 L722.2,294.9 L723.2,294.9 L723.2,293.9 L724.2,293.9 L724.2,294.5 L725.2,294.5 L725.2,293.8 L726.2,293.8 L726.2,293.7 L727.2,293.7 L727.2,293.4 L728.2,293.4 L728.2,293.3 L729.2,293.3 L729.2,292.5 L730.2,292.5 L730.2,293.5 L731.2,293.5 L731.2,292.0 L732.2,292.0 L732.2,293.8 L733.2,293.8 L733.2,292.9 L734.2,292.9 L734.2,291.7 L735.2,291.7 L735.2,292.3 L736.2,292.3 L736.2,292.8 L737.2,292.8 L737.2,292.9 L738.2,292.9 L738.2,293.5 L739.2,293.5 L739.2,293.3 L740.2,293.3 L740.2,293.5 L741.2,293.5 L741.2,294.7 L742.2,294.7 L742.2,292.4 L743.2,292.4 L743.2,292.2 L744.2,292.2 L744.2,291.2 L745.2,291.2 L745.2,289.4 L746.2,289.4 L746.2,287.8 L747.2,287.8 L747.2,287.8 L748.2,287.8 L748.2,284.2 L749.2,284.2 L749.2,284.1 L750.2,284.1 L750.2,278.8 L751.2,278.8 L751.2,278.6 L752.2,278.6 L752.2,277.7 L753.2,277.7 L753.2,272.8 L754.2,272.8 L754.2,274.9 L755.2,274.9 L755.2,268.9 L756.2,268.9 L756.2,269.8 L757.2,269.8 L757.2,267.9 L758.2,267.9 L758.2,272.6 L759.2,272.6 L759.2,271.8 L760.2,271.8 L760.2,274.0 L761.2,274.0 L761.2,274.1 L762.2,274.1 L762.2,278.0 L763.2,278.0 L763.2,280.7 L764.2,280.7 L764.2,281.8 L765.2,281.8 L765.2,284.4 L766.2,284.4 L766.2,289.3 L767.2,289.3 L767.2,290.0 L768.2,290.0 L768.2,294.7 L769.2,294.7 L769.2,294.6 L770.2,294.6 L770.2,295.4 L771.2,295.4 L771.2,296.3 L772.2,296.3 L772.2,298.2 L773.2,298.2 L773.2,298.2 L774.2,298.2 L774.2,297.0 L775.2,297.0 L775.2,297.1 L776.2,297.1 L776.2,296.1 L777.2,296.1 L777.2,297.0 L778.2,297.0 L778.2,296.7 L779.2,296.7 L779.2,296.4 L780.2,296.4 L780.2,296.9 L781.2,296.9 L781.2,298.6 L782.2,298.6 L782.2,298.2 L783.2,298.2 L783.2,299.9 L784.2,299.9 L784.2,298.8 L785.2,298.8 L785.2,298.2 L786.2,298.2 L786.2,298.3 L787.2,298.3 L787.2,297.4 L788.2,297.4 L788.2,297.3 L789.2,297.3 L789.2,296.2 L790.2,296.2 L790.2,297.1 L791.2,297.1 L791.2,293.9 L792.2,293.9 L792.2,293.0 L793.2,293.0 L793.2,289.0 L794.2,289.0 L794.2,288.8 L795.2,288.8 L795.2,287.4 L796.2,287.4 L796.2,282.8 L797.2,282.8 L797.2,277.3 L798.2,277.3 L798.2,275.1 L799.2,275.1 L799.2,272.4 L800.2,272.4 L800.2,266.3 L801.2,266.3 L801.2,263.8 L802.2,263.8 L802.2,257.4 L803.2,257.4 L803.2,255.2 L804.2,255.2 L804.2,253.4 L805.2,253.4 L805.2,252.2 L806.2,252.2 L806.2,254.9 L807.2,254.9 L807.2,253.6 L808.2,253.6 L808.2,258.7 L809.2,258.7 L809.2,257.3 L810.2,257.3 L810.2,264.3 L811.2,264.3 L811.2,267.7 L812.2,267.7 L812.2,270.4 L813.2,270.4 L813.2,271.9 L814.2,271.9 L814.2,274.8 L815.2,274.8 L815.2,278.9 L816.2,278.9 L816.2,284.3 L817.2,284.3 L817.2,284.7 L818.2,284.7 L818.2,287.2 L819.2,287.2 L819.2,285.2 L820.2,285.2 L820.2,287.4 L821.2,287.4 L821.2,289.6 L822.2,289.6 L822.2,289.6 L823.2,289.6 L823.2,290.4 L824.2,290.4 L824.2,290.2 L825.2,290.2 L825.2,292.0 L826.2,292.0 L826.2,293.9 L827.2,293.9 L827.2,296.7 L828.2,296.7 L828.2,298.1 L829.2,298.1 L829.2,298.2 L830.2,298.2 L830.2,297.1 L831.2,297.1 L831.2,292.9 L832.2,292.9 L832.2,291.9 L833.2,291.9 L833.2,289.8 L834.2,289.8 L834.2,284.1 L835.2,284.1 L835.2,282.9 L836.2,282.9 L836.2,278.0 L837.2,278.0 L837.2,272.0 L838.2,272.0 L838.2,270.4 L839.2,270.4 L839.2,268.0 L840.2,268.0 L840.2,264.0 L841.2,264.0 L841.2,264.0 L842.2,264.0 L842.2,258.7 L843.2,258.7 L843.2,259.2 L844.2,259.2 L844.2,254.8 L845.2,254.8 L845.2,253.0 L846.2,253.0 L846.2,254.8 L847.2,254.8 L847.2,251.8 L848.2,251.8 L848.2,253.4 L849.2,253.4 L849.2,253.9 L850.2,253.9 L850.2,252.7 L851.2,252.7 L851.2,252.0 L852.2,252.0 L852.2,249.9 L853.2,249.9 L853.2,252.3 L854.2,252.3 L854.2,250.2 L855.2,250.2 L855.2,252.9 L856.2,252.9 L856.2,249.9 L857.2,249.9 L857.2,251.7 L858.2,251.7 L858.2,250.0 L859.2,250.0 L859.2,249.7 L860.2,249.7 L860.2,251.3 L861.2,251.3 L861.2,250.8 L862.2,250.8 L862.2,252.8 L863.2,252.8 L863.2,258.7 L864.2,258.7 L864.2,257.9 L865.2,257.9 L865.2,263.5 L866.2,263.5 L866.2,266.7 L867.2,266.7 L867.2,267.7 L868.2,267.7 L868.2,269.0 L869.2,269.0 L869.2,271.8 L870.2,271.8 L870.2,278.3 L871.2,278.3 L871.2,276.8 L872.2,276.8 L872.2,280.7 L873.2,280.7 L873.2,283.0 L874.2,283.0 L874.2,283.7 L875.2,283.7 L875.2,287.1 L876.2,287.1 L876.2,287.8 L877.2,287.8 L877.2,290.5 L878.2,290.5 L878.2,291.9 L879.2,291.9 L879.2,293.2 L880.2,293.2 L880.2,294.4 L881.2,294.4 L881.2,292.2 L882.2,292.2 L882.2,288.3 L883.2,288.3 L883.2,284.7 L884.2,284.7 L884.2,281.1 L885.2,281.1 L885.2,279.4 L886.2,279.4 L886.2,272.7 L887.2,272.7 L887.2,269.6 L888.2,269.6 L888.2,262.1 L889.2,262.1 L889.2,265.1 L890.2,265.1 L890.2,261.2 L891.2,261.2 L891.2,261.0 L892.2,261.0 L892.2,258.3 L893.2,258.3 L893.2,257.2 L894.2,257.2 L894.2,254.7 L895.2,254.7 L895.2,257.3 L896.2,257.3 L896.2,254.3 L897.2,254.3 L897.2,254.8 L898.2,254.8 L898.2,253.7 L899.2,253.7 L899.2,255.5 L900.2,255.5 L900.2,256.2 L901.2,256.2 L901.2,255.8 L902.2,255.8 L902.2,259.4 L903.2,259.4 L903.2,256.1 L904.2,256.1 L904.2,259.2 L905.2,259.2 L905.2,258.1 L906.2,258.1 L906.2,262.4 L907.2,262.4 L907.2,267.8 L908.2,267.8 L908.2,272.0 L909.2,272.0 L909.2,273.2 L910.2,273.2 L910.2,278.0 L911.2,278.0 L911.2,282.9 L912.2,282.9 L912.2,287.5 L913.2,287.5 L913.2,287.7 L914.2,287.7 L914.2,291.1 L915.2,291.1 L915.2,289.1 L916.2,289.1 L916.2,287.4 L917.2,287.4 L917.2,283.5 L918.2,283.5 L918.2,283.2 L919.2,283.2 L919.2,279.9 L920.2,279.9 L920.2,280.2 L921.2,280.2 L921.2,273.9 L922.2,273.9 L922.2,277.2 L923.2,277.2 L923.2,274.6 L924.2,274.6 L924.2,274.6 L925.2,274.6 L925.2,273.0 L926.2,273.0 L926.2,273.8 L927.2,273.8 L927.2,276.7 L928.2,276.7 L928.2,277.5 L929.2,277.5 L929.2,275.8 L930.2,275.8 L930.2,277.7 L931.2,277.7 L931.2,278.5 L932.2,278.5 L932.2,280.7 L933.2,280.7 L933.2,282.7 L934.2,282.7 L934.2,283.8 L935.2,283.8 L935.2,284.9 L936.2,284.9 L936.2,283.7 L937.2,283.7 L937.2,281.7 L938.2,281.7 L938.2,280.1 L939.2,280.1 L939.2,279.9 L940.2,279.9 L940.2,281.0 L941.2,281.0 L941.2,281.4 L942.2,281.4 L942.2,280.4 L943.2,280.4 L943.2,279.7 L944.2,279.7 L944.2,277.4 L945.2,277.4 L945.2,279.2 L946.2,279.2 L946.2,280.0 L947.2,280.0 L947.2,279.5 L948.2,279.5 L948.2,275.9 L949.2,275.9 L949.2,278.7 L950.2,278.7 L950.2,276.7 L951.2,276.7 L951.2,275.5 L952.2,275.5 L952.2,279.3 L953.2,279.3 L953.2,277.8 L954.2,277.8 L954.2,278.6 L955.2,278.6 L955.2,276.1 L956.2,276.1 L956.2,279.8 L957.2,279.8 L957.2,280.9 L958.2,280.9 L958.2,281.6 L959.2,281.6 L959.2,281.7 L960.2,281.7 L960.2,283.0 L961.2,283.0 L961.2,283.5 L962.2,283.5 L962.2,282.7 L963.2,282.7 L963.2,282.2 L964.2,282.2 L964.2,283.9 L965.2,283.9 L965.2,283.9 L966.2,283.9 L966.2,284.3 L967.2,284.3 L967.2,282.1 L968.2,282.1 L968.2,284.9 L969.2,284.9 L969.2,283.3 L970.2,283.3 L970.2,285.1 L971.2,285.1 L971.2,282.0 L972.2,282.0 L972.2,285.5 L973.2,285.5 L973.2,284.9 L974.2,284.9 L974.2,282.0 L975.2,282.0 L975.2,283.5 L976.2,283.5 L976.2,280.0 L977.2,280.0 L977.2,278.9 L978.2,278.9 L978.2,279.1 L979.2,279.1 L979.2,277.0 L980.2,277.0 L980.2,277.0 L981.2,277.0 L981.2,277.8 L982.2,277.8 L982.2,275.3 L983.2,275.3 L983.2,274.1 L984.2,274.1 L984.2,271.2 L985.2,271.2 L985.2,272.2 L986.2,272.2 L986.2,271.6 L987.2,271.6 L987.2,270.4 L988.2,270.4 L988.2,271.0 L989.2,271.0 L989.2,269.8 L990.2,269.8 L990.2,267.0 L991.2,267.0 L991.2,264.4 L992.2,264.4 L992.2,266.3 L993.2,266.3 L993.2,266.2 L994.2,266.2 L994.2,262.8 L995.2,262.8 L995.2,263.5 L996.2,263.5 L996.2,264.2 L997.2,264.2 L997.2,263.5 L998.2,263.5 L998.2,259.1 L999.2,259.1 L999.2,261.0 L1000.2,261.0 L1000.2,258.4 L1001.2,258.4 L1001.2,259.1 L1002.2,259.1 L1002.2,263.3 L1003.2,263.3 L1003.2,262.0 L1004.2,262.0 L1004.2,263.6 L1005.2,263.6 L1005.2,263.7 L1006.2,263.7 L1006.2,264.6 L1007.2,264.6 L1007.2,265.4 L1008.2,265.4 L1008.2,267.8 L1009.2,267.8 L1009.2,272.3 L1010.2,272.3 L1010.2,273.1 L1011.2,273.1 L1011.2,273.5 L1012.2,273.5 L1012.2,274.5 L1013.2,274.5 L1013.2,277.1 L1014.2,277.1 L1014.2,280.3 L1015.2,280.3 L1015.2,280.4 L1016.2,280.4 L1016.2,282.5 L1017.2,282.5 L1017.2,284.3 L1018.2,284.3 L1018.2,282.9 L1019.2,282.9 L1019.2,286.2 L1020.2,286.2 L1020.2,285.2 L1021.2,285.2 L1021.2,288.8 L1022.2,288.8 L1022.2,287.7 L1023.2,287.7 L1023.2,288.9 L1024.2,288.9 L1024.2,291.8 L1025.2,291.8 L1025.2,291.1 L1026.2,291.1 L1026.2,291.7 L1027.2,291.7 L1027.2,294.2 L1028.2,294.2 L1028.2,294.4 L1029.2,294.4 L1029.2,295.8 L1030.2,295.8 L1030.2,295.5 L1031.2,295.5 L1031.2,296.5 L1032.2,296.5 L1032.2,298.0 L1033.2,298.0 L1033.2,298.0 L1034.2,298.0 L1034.2,299.5 L1035.2,299.5 L1035.2,299.2 L1036.2,299.2 L1036.2,300.4 L1037.2,300.4 L1037.2,299.9 L1038.2,299.9 L1038.2,300.7 L1039.2,300.7 L1039.2,300.5 L1040.2,300.5 L1040.2,301.0 L1041.2,301.0 L1041.2,302.2 L1042.2,302.2 L1042.2,302.0 L1043.2,302.0 L1043.2,302.7 L1044.2,302.7 L1044.2,302.6 L1045.2,302.6 L1045.2,303.0 L1046.2,303.0 L1046.2,303.1 L1047.2,303.1 L1047.2,303.6 L1048.2,303.6 L1048.2,304.1 L1049.2,304.1 L1049.2,304.1 L1050.2,304.1 L1050.2,304.2 L1051.2,304.2 L1051.2,304.7 L1052.2,304.7 L1052.2,304.9 L1053.2,304.9 L1053.2,305.1 L1054.2,305.1 L1054.2,305.0 L1055.2,305.0 L1055.2,305.5 L1056.2,305.5 L1056.2,305.6 L1057.2,305.6 L1057.2,305.8 L1058.2,305.8 L1058.2,305.8 L1059.2,305.8 L1059.2,306.0 L1060.2,306.0 L1060.2,306.1 L1061.2,306.1 L1061.2,306.1 L1062.2,306.1 L1062.2,306.3 L1063.2,306.3 L1063.2,306.4 L1064.2,306.4 L1064.2,306.6 L1065.2,306.6 L1065.2,306.6 L1065.5,306.6 L1065.5,307.7 Z " fill="#808000"/>
<path d="M707.0,307.7 L707.0,301.2 L708.0,301.2 L708.0,300.6 L709.0,300.6 L709.0,299.4 L710.0,299.4 L710.0,300.2 L711.0,300.2 L711.0,299.9 L712.0,299.9 L712.0,299.7 L713.0,299.7 L713.0,300.3 L714.0,300.3 L714.0,301.4 L715.0,301.4 L715.0,302.2 L716.0,302.2 L716.0,307.7 Z " fill="#ff0000"/>
<path d="M745.5,307.7 L745.5,305.4 L746.5,305.4 L746.5,303.3 L747.5,303.3 L747.5,300.5 L748.5,300.5 L748.5,298.6 L749.5,298.6 L749.5,296.3 L750.5,296.3 L750.5,296.0 L751.5,296.0 L751.5,294.2 L752.5,294.2 L752.5,290.5 L753.5,290.5 L753.5,289.9 L754.5,289.9 L754.5,289.3 L755.5,289.3 L755.5,288.5 L756.5,288.5 L756.5,290.5 L757.5,290.5 L757.5,292.9 L758.5,292.9 L758.5,294.4 L759.5,294.4 L759.5,295.5 L760.5,295.5 L760.5,298.2 L761.5,298.2 L761.5,299.4 L762.5,299.4 L762.5,301.6 L763.5,301.6 L763.5,303.4 L764.5,303.4 L764.5,305.5 L765.5,305.5 L765.5,307.7 Z M701.4,307.7 L701.4,304.9 L702.4,304.9 L702.4,304.1 L703.4,304.1 L703.4,303.4 L704.4,303.4 L704.4,303.1 L705.4,303.1 L705.4,303.4 L706.4,303.4 L706.4,303.1 L707.4,303.1 L707.4,303.0 L708.4,303.0 L708.4,302.7 L709.4,302.7 L709.4,302.7 L710.4,302.7 L710.4,303.1 L711.4,303.1 L711.4,303.4 L712.4,303.4 L712.4,303.4 L713.4,303.4 L713.4,303.2 L714.4,303.2 L714.4,303.3 L715.4,303.3 L715.4,304.0 L716.4,304.0 L716.4,304.7 L717.4,304.7 L717.4,304.8 L718.4,304.8 L718.4,305.9 L719.4,305.9 L719.4,307.3 L719.5,307.3 L719.5,307.7 Z " fill="#0000ff"/>
<path d="M612.5,13.5 H1065.5 V307.5 H612.5 Z" fill="none" stroke="#808080" stroke-width="1.0"/>
<path d="M612.5,307.5 V312.5 M612.5,13.5 V18.5" stroke="#808080" stroke-width="1.0"/>
<text transform="translate(612.00,326.9) scale(0.94,1.1)" text-anchor="middle" class="tk">120000</text>
<path d="M640.5,307.5 V310.5 M640.5,13.5 V16.5" stroke="#808080" stroke-width="1.0"/>
<path d="M668.5,307.5 V312.5 M668.5,13.5 V18.5" stroke="#808080" stroke-width="1.0"/>
<text transform="translate(668.69,326.9) scale(0.94,1.1)" text-anchor="middle" class="tk">130000</text>
<path d="M697.5,307.5 V310.5 M697.5,13.5 V16.5" stroke="#808080" stroke-width="1.0"/>
<path d="M725.5,307.5 V312.5 M725.5,13.5 V18.5" stroke="#808080" stroke-width="1.0"/>
<text transform="translate(725.38,326.9) scale(0.94,1.1)" text-anchor="middle" class="tk">140000</text>
<path d="M753.5,307.5 V310.5 M753.5,13.5 V16.5" stroke="#808080" stroke-width="1.0"/>
<path d="M782.5,307.5 V312.5 M782.5,13.5 V18.5" stroke="#808080" stroke-width="1.0"/>
<text transform="translate(782.06,326.9) scale(0.94,1.1)" text-anchor="middle" class="tk">150000</text>
<path d="M810.5,307.5 V310.5 M810.5,13.5 V16.5" stroke="#808080" stroke-width="1.0"/>
<path d="M838.5,307.5 V312.5 M838.5,13.5 V18.5" stroke="#808080" stroke-width="1.0"/>
<text transform="translate(838.75,326.9) scale(0.94,1.1)" text-anchor="middle" class="tk">160000</text>
<path d="M867.5,307.5 V310.5 M867.5,13.5 V16.5" stroke="#808080" stroke-width="1.0"/>
<path d="M895.5,307.5 V312.5 M895.5,13.5 V18.5" stroke="#808080" stroke-width="1.0"/>
<text transform="translate(895.44,326.9) scale(0.94,1.1)" text-anchor="middle" class="tk">170000</text>
<path d="M923.5,307.5 V310.5 M923.5,13.5 V16.5" stroke="#808080" stroke-width="1.0"/>
<path d="M952.5,307.5 V312.5 M952.5,13.5 V18.5" stroke="#808080" stroke-width="1.0"/>
<text transform="translate(952.12,326.9) scale(0.94,1.1)" text-anchor="middle" class="tk">180000</text>
<path d="M980.5,307.5 V310.5 M980.5,13.5 V16.5" stroke="#808080" stroke-width="1.0"/>
<path d="M1008.5,307.5 V312.5 M1008.5,13.5 V18.5" stroke="#808080" stroke-width="1.0"/>
<text transform="translate(1008.81,326.9) scale(0.94,1.1)" text-anchor="middle" class="tk">190000</text>
<path d="M1037.5,307.5 V310.5 M1037.5,13.5 V16.5" stroke="#808080" stroke-width="1.0"/>
<path d="M1065.5,307.5 V312.5 M1065.5,13.5 V18.5" stroke="#808080" stroke-width="1.0"/>
<text transform="translate(1065.50,326.9) scale(0.94,1.1)" text-anchor="middle" class="tk">200000</text>
<path d="M607.5,307.5 H612.5 M1060.5,307.5 H1065.5" stroke="#808080" stroke-width="1.0"/>
<text transform="translate(602.00,310.50) scale(0.94,1.1)" text-anchor="end" class="tk">0</text>
<path d="M609.5,270.5 H612.5 M1062.5,270.5 H1065.5" stroke="#808080" stroke-width="1.0"/>
<path d="M607.5,234.5 H612.5 M1060.5,234.5 H1065.5" stroke="#808080" stroke-width="1.0"/>
<text transform="translate(602.00,236.88) scale(0.94,1.1)" text-anchor="end" class="tk">20</text>
<path d="M609.5,197.5 H612.5 M1062.5,197.5 H1065.5" stroke="#808080" stroke-width="1.0"/>
<path d="M607.5,160.5 H612.5 M1060.5,160.5 H1065.5" stroke="#808080" stroke-width="1.0"/>
<text transform="translate(602.00,163.25) scale(0.94,1.1)" text-anchor="end" class="tk">40</text>
<path d="M609.5,123.5 H612.5 M1062.5,123.5 H1065.5" stroke="#808080" stroke-width="1.0"/>
<path d="M607.5,86.5 H612.5 M1060.5,86.5 H1065.5" stroke="#808080" stroke-width="1.0"/>
<text transform="translate(602.00,89.62) scale(0.94,1.1)" text-anchor="end" class="tk">60</text>
<path d="M609.5,50.5 H612.5 M1062.5,50.5 H1065.5" stroke="#808080" stroke-width="1.0"/>
<path d="M607.5,13.5 H612.5 M1060.5,13.5 H1065.5" stroke="#808080" stroke-width="1.0"/>
<text transform="translate(602.00,16.00) scale(0.94,1.1)" text-anchor="end" class="tk">80</text>
<line x1="995" y1="31.5" x2="1029" y2="31.5" stroke="#ff0000" stroke-width="1.5"/>
<text x="1032" y="35.1" class="lg">0</text>
<line x1="995" y1="49.8" x2="1029" y2="49.8" stroke="#00ff00" stroke-width="1.5"/>
<text x="1032" y="53.4" class="lg">4</text>
<line x1="995" y1="68.1" x2="1029" y2="68.1" stroke="#0000ff" stroke-width="1.5"/>
<text x="1032" y="71.7" class="lg">9</text>
<line x1="995" y1="86.4" x2="1029" y2="86.4" stroke="#808000" stroke-width="1.5"/>
<text x="1032" y="90.0" class="lg">14</text>
<text transform="translate(838,350.5) scale(1,1.1)" text-anchor="middle" class="ax">Frequency (Hz)</text>
<text x="578" y="159.5" text-anchor="middle" class="ax" transform="rotate(-90 578 159.5)">Magnitude</text>
<text transform="translate(179,391) scale(1,1.08)" class="cap" letter-spacing="0.95">(a) SCC-50%-steel</text>
<text transform="translate(721,391) scale(1,1.08)" class="cap" letter-spacing="1.05">(b) SCC-65%-GFRP</text>
<text transform="translate(382.5,432) scale(1,1.08)" class="cap" letter-spacing="0.77">Figure 1. Frequency spectrogram</text>
<path d="M537.6,350.7 H539.5 V354.5 H533.6 M535.6,352.5 L533.4,354.5 L535.6,356.5" fill="none" stroke="#6f6f6f" stroke-width="1.1"/>
<path d="M372.8,382.4 H374.7 V386.2 H368.8 M370.8,384.2 L368.6,386.2 L370.8,388.2" fill="none" stroke="#6f6f6f" stroke-width="1.1"/>
<path d="M1091.4,350.9 H1093.3 V354.7 H1087.4 M1089.4,352.7 L1087.2,354.7 L1089.4,356.7" fill="none" stroke="#6f6f6f" stroke-width="1.1"/>
<path d="M937.3,383.9 H939.2 V387.7 H933.3 M935.3,385.7 L933.1,387.7 L935.3,389.7" fill="none" stroke="#6f6f6f" stroke-width="1.1"/>
<path d="M1109.6,385.9 H1111.5 V389.7 H1105.6 M1107.6,387.7 L1105.4,389.7 L1107.6,391.7" fill="none" stroke="#6f6f6f" stroke-width="1.1"/>
<path d="M1109.6,22.9 H1111.5 V26.7 H1105.6 M1107.6,24.7 L1105.4,26.7 L1107.6,28.7" fill="none" stroke="#6f6f6f" stroke-width="1.1"/>
<path d="M723.1,424.4 H725.0 V428.2 H719.1 M721.1,426.2 L718.9,428.2 L721.1,430.2" fill="none" stroke="#6f6f6f" stroke-width="1.1"/>
<rect x="1103.5" y="405.5" width="5.5" height="5.5" fill="none" stroke="#6f6f6f" stroke-width="1"/>
<path d="M381.8,434.3 L383.8,435.9 L385.8,434.3 L387.8,435.9 L389.8,434.3 L391.8,435.9 L393.8,434.3 L395.8,435.9 L397.8,434.3 L399.8,435.9 L401.8,434.3 L403.8,435.9 L405.8,434.3 L407.8,435.9 L409.8,434.3 L411.8,435.9 L413.8,434.3 L415.8,435.9 L417.8,434.3 L419.8,435.9 L421.8,434.3 L423.8,435.9 L425.8,434.3 L427.8,435.9 L429.8,434.3 L431.8,435.9 L433.8,434.3 L435.8,435.9 L437.8,434.3 L439.8,435.9 L441.8,434.3 L443.8,435.9 L445.8,434.3 L447.8,435.9 L449.8,434.3 L451.8,435.9 L453.8,434.3 L455.8,435.9 L457.8,434.3 L459.8,435.9 L461.8,434.3 L463.8,435.9 L465.8,434.3 L467.8,435.9 L469.8,434.3 L471.8,435.9" fill="none" stroke="#2a9a2a" stroke-width="1.1"/>
</svg>
</body></html>
